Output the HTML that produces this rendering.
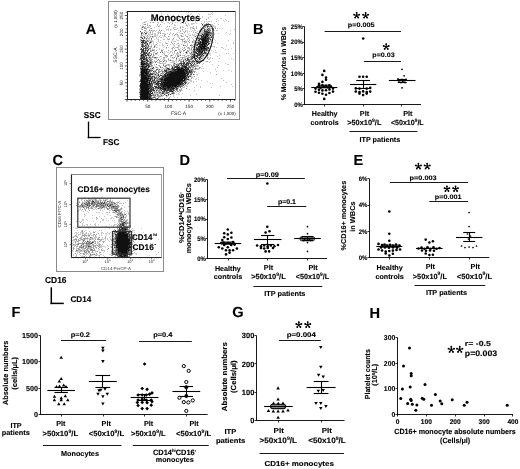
<!DOCTYPE html>
<html><head><meta charset="utf-8"><style>
html,body{margin:0;padding:0;background:#fff;width:520px;height:469px;overflow:hidden}
svg{display:block;font-family:"Liberation Sans", sans-serif;font-weight:bold;will-change:transform;text-rendering:geometricPrecision}
</style></head><body>
<svg width="520" height="469" viewBox="0 0 520 469">
<rect width="520" height="469" fill="#fff"/>
<text x="85.8" y="33.9" font-size="14.6" stroke="#000" stroke-width="0.12">A</text>
<rect x="108.5" y="1.5" width="131" height="118" stroke="#8a8a8a" stroke-width="1" fill="none"/>
<g shape-rendering="crispEdges"><path d="M188 12h1v1h-1zM212 12h1v1h-1zM161 13h1v1h-1zM191 13h1v1h-1zM198 13h1v1h-1zM211 13h1v1h-1zM167 14h1v1h-1zM190 14h1v1h-1zM199 14h1v1h-1zM208 14h3v1h-3zM212 14h1v1h-1zM188 15h2v1h-2zM225 15h1v1h-1zM161 16h1v1h-1zM176 16h1v1h-1zM186 16h1v1h-1zM197 16h1v1h-1zM202 16h1v1h-1zM210 16h1v1h-1zM172 17h1v1h-1zM174 17h1v1h-1zM176 17h1v1h-1zM181 17h1v1h-1zM187 17h1v1h-1zM192 17h1v1h-1zM202 17h1v1h-1zM208 17h1v1h-1zM168 18h1v1h-1zM178 18h1v1h-1zM183 18h1v1h-1zM195 18h1v1h-1zM208 18h1v1h-1zM217 18h1v1h-1zM220 18h2v1h-2zM141 19h1v1h-1zM161 19h1v1h-1zM169 19h1v1h-1zM183 19h1v1h-1zM216 19h1v1h-1zM225 19h1v1h-1zM150 20h1v1h-1zM182 20h2v1h-2zM194 20h1v1h-1zM198 20h1v1h-1zM218 20h1v1h-1zM223 20h1v1h-1zM226 20h1v1h-1zM145 21h2v1h-2zM163 21h1v1h-1zM172 21h1v1h-1zM186 21h1v1h-1zM195 21h1v1h-1zM201 21h1v1h-1zM204 21h1v1h-1zM206 21h1v1h-1zM208 21h2v1h-2zM211 21h1v1h-1zM216 21h1v1h-1zM224 21h1v1h-1zM228 21h1v1h-1zM143 22h1v1h-1zM145 22h1v1h-1zM152 22h1v1h-1zM157 22h2v1h-2zM161 22h2v1h-2zM167 22h2v1h-2zM170 22h1v1h-1zM172 22h1v1h-1zM175 22h1v1h-1zM177 22h1v1h-1zM185 22h1v1h-1zM195 22h1v1h-1zM204 22h1v1h-1zM207 22h1v1h-1zM142 23h1v1h-1zM147 23h1v1h-1zM158 23h1v1h-1zM164 23h1v1h-1zM169 23h1v1h-1zM180 23h1v1h-1zM183 23h1v1h-1zM188 23h1v1h-1zM191 23h4v1h-4zM196 23h1v1h-1zM203 23h1v1h-1zM214 23h1v1h-1zM143 24h1v1h-1zM147 24h1v1h-1zM171 24h1v1h-1zM174 24h1v1h-1zM186 24h1v1h-1zM188 24h1v1h-1zM191 24h2v1h-2zM205 24h1v1h-1zM208 24h1v1h-1zM211 24h2v1h-2zM218 24h1v1h-1zM140 25h1v1h-1zM150 25h1v1h-1zM157 25h1v1h-1zM159 25h1v1h-1zM174 25h2v1h-2zM187 25h1v1h-1zM189 25h1v1h-1zM203 25h1v1h-1zM212 25h2v1h-2zM145 26h1v1h-1zM148 26h1v1h-1zM156 26h1v1h-1zM159 26h1v1h-1zM161 26h1v1h-1zM180 26h1v1h-1zM182 26h1v1h-1zM187 26h1v1h-1zM193 26h1v1h-1zM196 26h1v1h-1zM206 26h1v1h-1zM212 26h4v1h-4zM141 27h1v1h-1zM143 27h1v1h-1zM145 27h1v1h-1zM148 27h2v1h-2zM154 27h1v1h-1zM166 27h1v1h-1zM173 27h3v1h-3zM182 27h2v1h-2zM190 27h4v1h-4zM196 27h1v1h-1zM200 27h1v1h-1zM202 27h1v1h-1zM204 27h1v1h-1zM209 27h2v1h-2zM214 27h2v1h-2zM141 28h1v1h-1zM146 28h1v1h-1zM150 28h1v1h-1zM165 28h1v1h-1zM168 28h1v1h-1zM173 28h1v1h-1zM177 28h1v1h-1zM180 28h1v1h-1zM185 28h1v1h-1zM187 28h1v1h-1zM190 28h1v1h-1zM192 28h1v1h-1zM194 28h1v1h-1zM206 28h2v1h-2zM210 28h1v1h-1zM212 28h1v1h-1zM217 28h1v1h-1zM219 28h1v1h-1zM222 28h1v1h-1zM141 29h1v1h-1zM146 29h1v1h-1zM149 29h1v1h-1zM159 29h1v1h-1zM166 29h3v1h-3zM170 29h2v1h-2zM175 29h2v1h-2zM190 29h1v1h-1zM194 29h1v1h-1zM206 29h1v1h-1zM210 29h1v1h-1zM212 29h1v1h-1zM234 29h1v1h-1zM150 30h1v1h-1zM152 30h3v1h-3zM156 30h1v1h-1zM163 30h1v1h-1zM166 30h1v1h-1zM168 30h1v1h-1zM170 30h1v1h-1zM178 30h1v1h-1zM180 30h1v1h-1zM182 30h1v1h-1zM185 30h1v1h-1zM187 30h1v1h-1zM192 30h1v1h-1zM194 30h2v1h-2zM199 30h5v1h-5zM212 30h3v1h-3zM216 30h2v1h-2zM230 30h1v1h-1zM145 31h2v1h-2zM148 31h1v1h-1zM150 31h1v1h-1zM152 31h2v1h-2zM155 31h1v1h-1zM158 31h1v1h-1zM160 31h1v1h-1zM164 31h1v1h-1zM183 31h1v1h-1zM187 31h1v1h-1zM189 31h1v1h-1zM191 31h1v1h-1zM193 31h1v1h-1zM197 31h1v1h-1zM201 31h3v1h-3zM210 31h1v1h-1zM147 32h1v1h-1zM149 32h1v1h-1zM152 32h1v1h-1zM157 32h4v1h-4zM170 32h1v1h-1zM177 32h1v1h-1zM179 32h1v1h-1zM187 32h1v1h-1zM193 32h1v1h-1zM196 32h1v1h-1zM200 32h3v1h-3zM213 32h1v1h-1zM226 32h1v1h-1zM143 33h1v1h-1zM148 33h1v1h-1zM150 33h1v1h-1zM152 33h1v1h-1zM154 33h2v1h-2zM162 33h3v1h-3zM167 33h1v1h-1zM170 33h1v1h-1zM176 33h1v1h-1zM180 33h2v1h-2zM189 33h1v1h-1zM196 33h1v1h-1zM198 33h1v1h-1zM200 33h1v1h-1zM203 33h1v1h-1zM212 33h1v1h-1zM214 33h1v1h-1zM218 33h1v1h-1zM230 33h1v1h-1zM143 34h4v1h-4zM148 34h4v1h-4zM154 34h2v1h-2zM157 34h1v1h-1zM164 34h1v1h-1zM172 34h1v1h-1zM176 34h1v1h-1zM183 34h1v1h-1zM185 34h1v1h-1zM188 34h1v1h-1zM192 34h1v1h-1zM194 34h2v1h-2zM198 34h4v1h-4zM214 34h1v1h-1zM229 34h1v1h-1zM145 35h1v1h-1zM149 35h1v1h-1zM154 35h4v1h-4zM160 35h1v1h-1zM162 35h1v1h-1zM172 35h1v1h-1zM177 35h2v1h-2zM180 35h1v1h-1zM185 35h1v1h-1zM189 35h1v1h-1zM192 35h3v1h-3zM196 35h1v1h-1zM211 35h3v1h-3zM140 36h2v1h-2zM146 36h3v1h-3zM151 36h1v1h-1zM153 36h3v1h-3zM159 36h1v1h-1zM163 36h3v1h-3zM169 36h1v1h-1zM177 36h2v1h-2zM182 36h2v1h-2zM186 36h1v1h-1zM194 36h1v1h-1zM197 36h4v1h-4zM210 36h1v1h-1zM142 37h1v1h-1zM145 37h1v1h-1zM149 37h2v1h-2zM152 37h2v1h-2zM156 37h1v1h-1zM158 37h1v1h-1zM160 37h2v1h-2zM166 37h1v1h-1zM174 37h1v1h-1zM178 37h2v1h-2zM187 37h1v1h-1zM189 37h1v1h-1zM191 37h1v1h-1zM193 37h1v1h-1zM198 37h1v1h-1zM200 37h1v1h-1zM141 38h1v1h-1zM143 38h1v1h-1zM145 38h1v1h-1zM147 38h3v1h-3zM156 38h1v1h-1zM167 38h1v1h-1zM169 38h1v1h-1zM184 38h1v1h-1zM192 38h1v1h-1zM195 38h1v1h-1zM212 38h1v1h-1zM141 39h1v1h-1zM148 39h2v1h-2zM154 39h1v1h-1zM157 39h2v1h-2zM163 39h2v1h-2zM167 39h1v1h-1zM169 39h1v1h-1zM172 39h2v1h-2zM176 39h1v1h-1zM180 39h1v1h-1zM183 39h2v1h-2zM187 39h1v1h-1zM189 39h1v1h-1zM193 39h1v1h-1zM196 39h2v1h-2zM211 39h1v1h-1zM214 39h1v1h-1zM140 40h1v1h-1zM145 40h2v1h-2zM148 40h5v1h-5zM158 40h1v1h-1zM160 40h1v1h-1zM172 40h1v1h-1zM177 40h2v1h-2zM185 40h1v1h-1zM187 40h1v1h-1zM189 40h1v1h-1zM193 40h5v1h-5zM211 40h1v1h-1zM215 40h1v1h-1zM228 40h1v1h-1zM140 41h2v1h-2zM144 41h1v1h-1zM152 41h2v1h-2zM158 41h1v1h-1zM168 41h1v1h-1zM171 41h1v1h-1zM173 41h3v1h-3zM182 41h2v1h-2zM185 41h2v1h-2zM193 41h2v1h-2zM197 41h1v1h-1zM210 41h1v1h-1zM153 42h1v1h-1zM156 42h1v1h-1zM159 42h2v1h-2zM165 42h1v1h-1zM182 42h1v1h-1zM184 42h2v1h-2zM193 42h2v1h-2zM209 42h1v1h-1zM212 42h2v1h-2zM215 42h1v1h-1zM233 42h1v1h-1zM140 43h2v1h-2zM150 43h1v1h-1zM153 43h1v1h-1zM157 43h1v1h-1zM162 43h1v1h-1zM165 43h1v1h-1zM167 43h1v1h-1zM177 43h1v1h-1zM184 43h1v1h-1zM187 43h1v1h-1zM194 43h1v1h-1zM197 43h1v1h-1zM207 43h1v1h-1zM210 43h1v1h-1zM217 43h1v1h-1zM233 43h1v1h-1zM148 44h2v1h-2zM151 44h1v1h-1zM153 44h1v1h-1zM155 44h1v1h-1zM162 44h1v1h-1zM170 44h1v1h-1zM173 44h1v1h-1zM176 44h1v1h-1zM181 44h1v1h-1zM183 44h1v1h-1zM187 44h1v1h-1zM191 44h1v1h-1zM193 44h1v1h-1zM209 44h1v1h-1zM144 45h1v1h-1zM147 45h1v1h-1zM151 45h1v1h-1zM154 45h2v1h-2zM157 45h1v1h-1zM159 45h1v1h-1zM162 45h2v1h-2zM173 45h2v1h-2zM179 45h1v1h-1zM184 45h1v1h-1zM187 45h1v1h-1zM195 45h1v1h-1zM210 45h2v1h-2zM226 45h1v1h-1zM145 46h1v1h-1zM147 46h1v1h-1zM149 46h2v1h-2zM155 46h1v1h-1zM164 46h1v1h-1zM174 46h1v1h-1zM178 46h2v1h-2zM191 46h1v1h-1zM194 46h4v1h-4zM207 46h1v1h-1zM209 46h1v1h-1zM211 46h4v1h-4zM140 47h1v1h-1zM150 47h2v1h-2zM153 47h1v1h-1zM156 47h2v1h-2zM163 47h1v1h-1zM168 47h1v1h-1zM172 47h1v1h-1zM175 47h2v1h-2zM178 47h1v1h-1zM182 47h1v1h-1zM187 47h1v1h-1zM189 47h1v1h-1zM191 47h1v1h-1zM193 47h1v1h-1zM195 47h1v1h-1zM214 47h1v1h-1zM216 47h1v1h-1zM221 47h2v1h-2zM140 48h1v1h-1zM148 48h1v1h-1zM152 48h1v1h-1zM159 48h1v1h-1zM166 48h1v1h-1zM171 48h1v1h-1zM174 48h1v1h-1zM178 48h1v1h-1zM180 48h1v1h-1zM183 48h2v1h-2zM187 48h2v1h-2zM193 48h1v1h-1zM195 48h1v1h-1zM209 48h1v1h-1zM223 48h1v1h-1zM231 48h1v1h-1zM147 49h1v1h-1zM152 49h3v1h-3zM159 49h1v1h-1zM161 49h1v1h-1zM163 49h1v1h-1zM172 49h1v1h-1zM179 49h1v1h-1zM189 49h2v1h-2zM208 49h1v1h-1zM225 49h1v1h-1zM228 49h1v1h-1zM151 50h1v1h-1zM154 50h1v1h-1zM172 50h1v1h-1zM179 50h2v1h-2zM188 50h2v1h-2zM191 50h5v1h-5zM209 50h1v1h-1zM211 50h1v1h-1zM215 50h1v1h-1zM154 51h1v1h-1zM162 51h1v1h-1zM164 51h1v1h-1zM166 51h1v1h-1zM170 51h2v1h-2zM179 51h3v1h-3zM183 51h1v1h-1zM187 51h1v1h-1zM191 51h2v1h-2zM194 51h1v1h-1zM205 51h4v1h-4zM213 51h1v1h-1zM147 52h2v1h-2zM153 52h2v1h-2zM164 52h1v1h-1zM167 52h2v1h-2zM170 52h1v1h-1zM172 52h1v1h-1zM174 52h1v1h-1zM179 52h1v1h-1zM187 52h1v1h-1zM189 52h1v1h-1zM192 52h3v1h-3zM197 52h1v1h-1zM203 52h1v1h-1zM215 52h2v1h-2zM142 53h1v1h-1zM150 53h2v1h-2zM153 53h1v1h-1zM157 53h1v1h-1zM163 53h2v1h-2zM169 53h1v1h-1zM172 53h1v1h-1zM174 53h1v1h-1zM176 53h3v1h-3zM180 53h1v1h-1zM183 53h1v1h-1zM187 53h1v1h-1zM189 53h1v1h-1zM192 53h1v1h-1zM194 53h1v1h-1zM207 53h4v1h-4zM226 53h1v1h-1zM228 53h1v1h-1zM233 53h1v1h-1zM140 54h1v1h-1zM149 54h1v1h-1zM155 54h2v1h-2zM162 54h1v1h-1zM164 54h1v1h-1zM168 54h1v1h-1zM173 54h1v1h-1zM176 54h3v1h-3zM180 54h1v1h-1zM185 54h1v1h-1zM190 54h1v1h-1zM203 54h4v1h-4zM208 54h2v1h-2zM151 55h1v1h-1zM154 55h1v1h-1zM158 55h1v1h-1zM164 55h1v1h-1zM167 55h1v1h-1zM170 55h1v1h-1zM172 55h1v1h-1zM175 55h1v1h-1zM178 55h2v1h-2zM182 55h2v1h-2zM187 55h1v1h-1zM189 55h1v1h-1zM192 55h1v1h-1zM204 55h1v1h-1zM210 55h1v1h-1zM219 55h1v1h-1zM148 56h1v1h-1zM150 56h1v1h-1zM153 56h1v1h-1zM161 56h1v1h-1zM165 56h2v1h-2zM170 56h1v1h-1zM175 56h1v1h-1zM184 56h2v1h-2zM188 56h1v1h-1zM198 56h2v1h-2zM203 56h1v1h-1zM207 56h1v1h-1zM217 56h1v1h-1zM145 57h1v1h-1zM148 57h1v1h-1zM151 57h1v1h-1zM153 57h1v1h-1zM159 57h1v1h-1zM166 57h1v1h-1zM170 57h1v1h-1zM173 57h1v1h-1zM176 57h2v1h-2zM180 57h2v1h-2zM184 57h2v1h-2zM187 57h1v1h-1zM190 57h1v1h-1zM195 57h2v1h-2zM201 57h4v1h-4zM208 57h1v1h-1zM210 57h1v1h-1zM147 58h1v1h-1zM149 58h1v1h-1zM151 58h1v1h-1zM154 58h3v1h-3zM161 58h1v1h-1zM163 58h2v1h-2zM168 58h1v1h-1zM172 58h2v1h-2zM178 58h2v1h-2zM184 58h3v1h-3zM193 58h2v1h-2zM202 58h1v1h-1zM209 58h2v1h-2zM212 58h1v1h-1zM219 58h1v1h-1zM231 58h1v1h-1zM142 59h1v1h-1zM156 59h1v1h-1zM160 59h1v1h-1zM163 59h2v1h-2zM170 59h1v1h-1zM179 59h2v1h-2zM182 59h3v1h-3zM192 59h1v1h-1zM194 59h1v1h-1zM202 59h3v1h-3zM208 59h2v1h-2zM233 59h1v1h-1zM140 60h1v1h-1zM149 60h1v1h-1zM154 60h1v1h-1zM162 60h1v1h-1zM165 60h2v1h-2zM168 60h2v1h-2zM171 60h3v1h-3zM175 60h2v1h-2zM178 60h1v1h-1zM180 60h1v1h-1zM184 60h2v1h-2zM190 60h2v1h-2zM196 60h1v1h-1zM199 60h1v1h-1zM155 61h1v1h-1zM159 61h1v1h-1zM164 61h1v1h-1zM172 61h3v1h-3zM176 61h1v1h-1zM178 61h1v1h-1zM195 61h1v1h-1zM201 61h1v1h-1zM205 61h2v1h-2zM210 61h1v1h-1zM218 61h1v1h-1zM152 62h2v1h-2zM157 62h3v1h-3zM162 62h1v1h-1zM165 62h1v1h-1zM170 62h5v1h-5zM176 62h1v1h-1zM190 62h1v1h-1zM194 62h2v1h-2zM198 62h1v1h-1zM200 62h1v1h-1zM209 62h1v1h-1zM140 63h1v1h-1zM152 63h1v1h-1zM159 63h1v1h-1zM161 63h5v1h-5zM173 63h1v1h-1zM175 63h1v1h-1zM177 63h2v1h-2zM185 63h1v1h-1zM191 63h1v1h-1zM198 63h1v1h-1zM203 63h1v1h-1zM225 63h1v1h-1zM154 64h1v1h-1zM166 64h2v1h-2zM169 64h2v1h-2zM174 64h2v1h-2zM180 64h1v1h-1zM182 64h1v1h-1zM196 64h1v1h-1zM202 64h1v1h-1zM212 64h1v1h-1zM227 64h2v1h-2zM140 65h1v1h-1zM150 65h1v1h-1zM154 65h1v1h-1zM158 65h1v1h-1zM167 65h1v1h-1zM169 65h1v1h-1zM179 65h1v1h-1zM189 65h1v1h-1zM194 65h3v1h-3zM198 65h1v1h-1zM218 65h1v1h-1zM152 66h1v1h-1zM155 66h1v1h-1zM159 66h1v1h-1zM169 66h1v1h-1zM171 66h1v1h-1zM173 66h1v1h-1zM190 66h1v1h-1zM193 66h1v1h-1zM196 66h3v1h-3zM202 66h1v1h-1zM149 67h1v1h-1zM151 67h2v1h-2zM155 67h1v1h-1zM157 67h1v1h-1zM161 67h1v1h-1zM165 67h1v1h-1zM167 67h1v1h-1zM169 67h1v1h-1zM171 67h1v1h-1zM191 67h1v1h-1zM195 67h1v1h-1zM200 67h1v1h-1zM217 67h1v1h-1zM151 68h1v1h-1zM154 68h1v1h-1zM157 68h2v1h-2zM165 68h1v1h-1zM189 68h1v1h-1zM192 68h3v1h-3zM197 68h2v1h-2zM201 68h1v1h-1zM203 68h1v1h-1zM152 69h2v1h-2zM158 69h1v1h-1zM160 69h3v1h-3zM165 69h1v1h-1zM189 69h1v1h-1zM193 69h2v1h-2zM196 69h3v1h-3zM215 69h1v1h-1zM154 70h1v1h-1zM159 70h1v1h-1zM162 70h1v1h-1zM169 70h1v1h-1zM193 70h1v1h-1zM223 70h1v1h-1zM228 70h1v1h-1zM161 71h1v1h-1zM195 71h1v1h-1zM203 71h1v1h-1zM216 71h1v1h-1zM231 71h1v1h-1zM152 72h2v1h-2zM155 72h1v1h-1zM163 72h1v1h-1zM165 72h1v1h-1zM196 72h1v1h-1zM210 72h1v1h-1zM155 73h1v1h-1zM158 73h1v1h-1zM160 73h1v1h-1zM189 73h1v1h-1zM192 73h1v1h-1zM198 73h1v1h-1zM139 74h1v1h-1zM153 74h1v1h-1zM156 74h2v1h-2zM162 74h2v1h-2zM194 74h1v1h-1zM196 74h2v1h-2zM151 75h5v1h-5zM159 75h1v1h-1zM188 75h1v1h-1zM191 75h1v1h-1zM197 75h1v1h-1zM139 76h2v1h-2zM157 76h2v1h-2zM161 76h1v1h-1zM191 76h2v1h-2zM153 77h1v1h-1zM157 77h1v1h-1zM159 77h2v1h-2zM191 77h2v1h-2zM198 77h1v1h-1zM140 78h1v1h-1zM153 78h1v1h-1zM158 78h1v1h-1zM188 78h1v1h-1zM193 78h1v1h-1zM196 78h1v1h-1zM221 78h1v1h-1zM153 79h1v1h-1zM155 79h2v1h-2zM189 79h2v1h-2zM195 79h1v1h-1zM198 79h1v1h-1zM151 80h1v1h-1zM155 80h1v1h-1zM188 80h4v1h-4zM201 80h1v1h-1zM223 80h1v1h-1zM186 81h2v1h-2zM190 81h2v1h-2zM193 81h1v1h-1zM196 81h1v1h-1zM207 81h1v1h-1zM140 82h1v1h-1zM150 82h1v1h-1zM152 82h1v1h-1zM156 82h1v1h-1zM159 82h1v1h-1zM183 82h1v1h-1zM188 82h2v1h-2zM193 82h1v1h-1zM226 82h1v1h-1zM184 83h1v1h-1zM186 83h2v1h-2zM210 83h1v1h-1zM212 83h1v1h-1zM159 84h1v1h-1zM185 84h1v1h-1zM187 84h1v1h-1zM231 84h1v1h-1zM154 85h1v1h-1zM156 85h1v1h-1zM185 85h2v1h-2zM196 85h1v1h-1zM157 86h1v1h-1zM184 86h1v1h-1zM186 86h2v1h-2zM200 86h1v1h-1zM220 86h1v1h-1zM232 86h1v1h-1zM179 87h1v1h-1zM182 87h3v1h-3zM194 87h1v1h-1zM200 87h1v1h-1zM211 87h1v1h-1zM139 88h1v1h-1zM178 88h1v1h-1zM154 89h3v1h-3zM158 89h1v1h-1zM174 89h1v1h-1zM180 89h1v1h-1zM189 89h1v1h-1zM139 90h1v1h-1zM160 90h1v1h-1zM181 90h2v1h-2zM194 90h1v1h-1zM139 91h1v1h-1zM152 91h2v1h-2zM155 91h1v1h-1zM160 91h2v1h-2zM165 91h1v1h-1zM155 92h1v1h-1zM158 92h1v1h-1zM161 92h1v1h-1zM169 92h1v1h-1zM171 92h1v1h-1zM174 92h1v1h-1zM176 92h1v1h-1zM179 92h1v1h-1zM139 93h1v1h-1zM153 93h6v1h-6zM160 93h1v1h-1zM164 93h1v1h-1zM168 93h2v1h-2zM178 93h1v1h-1zM182 93h1v1h-1zM139 94h1v1h-1zM151 94h1v1h-1zM154 94h1v1h-1zM156 94h1v1h-1zM158 94h1v1h-1zM161 94h2v1h-2zM165 94h1v1h-1zM169 94h1v1h-1zM171 94h1v1h-1zM173 94h1v1h-1zM176 94h1v1h-1zM178 94h2v1h-2zM196 94h1v1h-1zM159 95h2v1h-2zM162 95h1v1h-1zM165 95h1v1h-1zM167 95h1v1h-1zM173 95h1v1h-1zM190 95h1v1h-1zM219 95h1v1h-1zM153 96h1v1h-1zM155 96h3v1h-3zM161 96h2v1h-2zM166 96h2v1h-2zM170 96h1v1h-1zM173 96h1v1h-1zM159 97h1v1h-1zM166 97h1v1h-1zM169 97h1v1h-1zM174 97h1v1h-1zM177 97h1v1h-1zM181 97h1v1h-1zM153 98h1v1h-1zM158 98h1v1h-1zM160 98h1v1h-1zM162 98h1v1h-1zM169 98h1v1h-1z" fill="#c8c8c8"/><path d="M200 18h1v1h-1zM206 19h1v1h-1zM144 22h1v1h-1zM150 22h1v1h-1zM153 22h1v1h-1zM172 23h1v1h-1zM185 23h1v1h-1zM201 23h1v1h-1zM206 23h1v1h-1zM208 23h1v1h-1zM144 24h2v1h-2zM157 24h1v1h-1zM160 24h1v1h-1zM204 24h1v1h-1zM209 24h2v1h-2zM147 25h1v1h-1zM149 25h1v1h-1zM186 25h1v1h-1zM202 25h1v1h-1zM207 25h2v1h-2zM142 26h2v1h-2zM150 26h1v1h-1zM158 26h1v1h-1zM167 26h1v1h-1zM169 26h1v1h-1zM205 26h1v1h-1zM209 26h2v1h-2zM144 27h1v1h-1zM147 27h1v1h-1zM180 27h1v1h-1zM205 27h1v1h-1zM144 28h2v1h-2zM151 28h1v1h-1zM193 28h1v1h-1zM196 28h1v1h-1zM204 28h1v1h-1zM209 28h1v1h-1zM211 28h1v1h-1zM215 28h1v1h-1zM142 29h1v1h-1zM174 29h1v1h-1zM182 29h1v1h-1zM200 29h1v1h-1zM202 29h1v1h-1zM205 29h1v1h-1zM208 29h1v1h-1zM144 30h2v1h-2zM149 30h1v1h-1zM151 30h1v1h-1zM159 30h1v1h-1zM161 30h1v1h-1zM205 30h1v1h-1zM207 30h1v1h-1zM209 30h1v1h-1zM180 31h1v1h-1zM185 31h1v1h-1zM199 31h2v1h-2zM208 31h1v1h-1zM212 31h1v1h-1zM141 32h2v1h-2zM146 32h1v1h-1zM150 32h1v1h-1zM184 32h1v1h-1zM195 32h1v1h-1zM203 32h1v1h-1zM211 32h1v1h-1zM142 33h1v1h-1zM158 33h1v1h-1zM160 33h1v1h-1zM173 33h1v1h-1zM182 33h1v1h-1zM197 33h1v1h-1zM201 33h2v1h-2zM141 34h1v1h-1zM152 34h1v1h-1zM165 34h1v1h-1zM169 34h1v1h-1zM175 34h1v1h-1zM177 34h1v1h-1zM210 34h2v1h-2zM141 35h2v1h-2zM147 35h1v1h-1zM164 35h1v1h-1zM174 35h1v1h-1zM181 35h1v1h-1zM190 35h1v1h-1zM198 35h1v1h-1zM202 35h1v1h-1zM209 35h1v1h-1zM143 36h2v1h-2zM150 36h1v1h-1zM168 36h1v1h-1zM181 36h1v1h-1zM187 36h1v1h-1zM208 36h2v1h-2zM140 37h1v1h-1zM147 37h1v1h-1zM197 37h1v1h-1zM199 37h1v1h-1zM210 37h1v1h-1zM213 37h1v1h-1zM144 38h1v1h-1zM173 38h1v1h-1zM179 38h1v1h-1zM188 38h1v1h-1zM196 38h1v1h-1zM210 38h1v1h-1zM140 39h1v1h-1zM143 39h1v1h-1zM146 39h1v1h-1zM151 39h1v1h-1zM168 39h1v1h-1zM181 39h2v1h-2zM198 39h1v1h-1zM209 39h1v1h-1zM182 40h1v1h-1zM210 40h1v1h-1zM147 41h2v1h-2zM150 41h2v1h-2zM188 41h1v1h-1zM192 41h1v1h-1zM195 41h1v1h-1zM198 41h1v1h-1zM201 41h1v1h-1zM211 41h1v1h-1zM144 42h1v1h-1zM149 42h1v1h-1zM151 42h1v1h-1zM171 42h1v1h-1zM186 42h1v1h-1zM189 42h1v1h-1zM192 42h1v1h-1zM143 43h1v1h-1zM146 43h1v1h-1zM149 43h1v1h-1zM166 43h1v1h-1zM172 43h1v1h-1zM174 43h1v1h-1zM178 43h1v1h-1zM196 43h1v1h-1zM143 44h1v1h-1zM145 44h2v1h-2zM156 44h1v1h-1zM195 44h2v1h-2zM141 45h1v1h-1zM146 45h1v1h-1zM167 45h1v1h-1zM178 45h1v1h-1zM185 45h1v1h-1zM191 45h2v1h-2zM194 45h1v1h-1zM151 46h1v1h-1zM186 46h1v1h-1zM210 46h1v1h-1zM143 47h1v1h-1zM146 47h1v1h-1zM148 47h1v1h-1zM154 47h1v1h-1zM166 47h1v1h-1zM173 47h1v1h-1zM177 47h1v1h-1zM184 47h1v1h-1zM188 47h1v1h-1zM192 47h1v1h-1zM194 47h1v1h-1zM197 47h1v1h-1zM210 47h1v1h-1zM150 48h1v1h-1zM172 48h1v1h-1zM189 48h1v1h-1zM191 48h1v1h-1zM146 49h1v1h-1zM150 49h1v1h-1zM178 49h1v1h-1zM182 49h1v1h-1zM185 49h1v1h-1zM191 49h1v1h-1zM194 49h1v1h-1zM141 50h1v1h-1zM144 50h1v1h-1zM146 50h1v1h-1zM148 50h1v1h-1zM150 50h1v1h-1zM153 50h1v1h-1zM156 50h1v1h-1zM161 50h2v1h-2zM168 50h1v1h-1zM176 50h1v1h-1zM183 50h2v1h-2zM187 50h1v1h-1zM207 50h1v1h-1zM144 51h1v1h-1zM150 51h2v1h-2zM161 51h1v1h-1zM174 51h1v1h-1zM186 51h1v1h-1zM188 51h1v1h-1zM193 51h1v1h-1zM196 51h1v1h-1zM203 51h1v1h-1zM142 52h1v1h-1zM157 52h1v1h-1zM177 52h1v1h-1zM185 52h1v1h-1zM206 52h1v1h-1zM208 52h1v1h-1zM140 53h2v1h-2zM147 53h1v1h-1zM149 53h1v1h-1zM155 53h1v1h-1zM186 53h1v1h-1zM190 53h2v1h-2zM195 53h1v1h-1zM206 53h1v1h-1zM153 54h1v1h-1zM191 54h1v1h-1zM193 54h1v1h-1zM195 54h1v1h-1zM140 55h1v1h-1zM144 55h1v1h-1zM147 55h1v1h-1zM149 55h1v1h-1zM153 55h1v1h-1zM165 55h2v1h-2zM177 55h1v1h-1zM184 55h1v1h-1zM188 55h1v1h-1zM191 55h1v1h-1zM200 55h1v1h-1zM202 55h1v1h-1zM140 56h1v1h-1zM145 56h2v1h-2zM149 56h1v1h-1zM152 56h1v1h-1zM160 56h1v1h-1zM167 56h1v1h-1zM177 56h1v1h-1zM186 56h1v1h-1zM190 56h2v1h-2zM195 56h1v1h-1zM202 56h1v1h-1zM140 57h1v1h-1zM147 57h1v1h-1zM150 57h1v1h-1zM152 57h1v1h-1zM156 57h2v1h-2zM163 57h2v1h-2zM172 57h1v1h-1zM174 57h1v1h-1zM182 57h2v1h-2zM188 57h2v1h-2zM198 57h1v1h-1zM207 57h1v1h-1zM148 58h1v1h-1zM150 58h1v1h-1zM182 58h1v1h-1zM188 58h1v1h-1zM190 58h1v1h-1zM200 58h1v1h-1zM207 58h1v1h-1zM139 59h1v1h-1zM150 59h3v1h-3zM168 59h1v1h-1zM176 59h1v1h-1zM181 59h1v1h-1zM189 59h2v1h-2zM200 59h1v1h-1zM143 60h3v1h-3zM148 60h1v1h-1zM151 60h1v1h-1zM157 60h1v1h-1zM159 60h1v1h-1zM164 60h1v1h-1zM192 60h1v1h-1zM195 60h1v1h-1zM197 60h2v1h-2zM200 60h2v1h-2zM146 61h1v1h-1zM149 61h4v1h-4zM154 61h1v1h-1zM156 61h1v1h-1zM160 61h2v1h-2zM166 61h1v1h-1zM180 61h1v1h-1zM182 61h1v1h-1zM185 61h2v1h-2zM190 61h2v1h-2zM198 61h2v1h-2zM207 61h1v1h-1zM140 62h1v1h-1zM145 62h1v1h-1zM147 62h1v1h-1zM149 62h1v1h-1zM180 62h2v1h-2zM186 62h1v1h-1zM188 62h1v1h-1zM192 62h2v1h-2zM196 62h2v1h-2zM199 62h1v1h-1zM148 63h1v1h-1zM151 63h1v1h-1zM160 63h1v1h-1zM196 63h1v1h-1zM140 64h1v1h-1zM149 64h1v1h-1zM151 64h1v1h-1zM163 64h1v1h-1zM168 64h1v1h-1zM173 64h1v1h-1zM177 64h1v1h-1zM179 64h1v1h-1zM184 64h1v1h-1zM190 64h1v1h-1zM194 64h2v1h-2zM145 65h1v1h-1zM151 65h2v1h-2zM159 65h1v1h-1zM165 65h2v1h-2zM168 65h1v1h-1zM171 65h1v1h-1zM173 65h1v1h-1zM176 65h1v1h-1zM180 65h1v1h-1zM185 65h1v1h-1zM188 65h1v1h-1zM197 65h1v1h-1zM139 66h2v1h-2zM147 66h1v1h-1zM150 66h2v1h-2zM160 66h1v1h-1zM164 66h1v1h-1zM174 66h1v1h-1zM178 66h1v1h-1zM181 66h1v1h-1zM192 66h1v1h-1zM195 66h1v1h-1zM140 67h2v1h-2zM147 67h1v1h-1zM162 67h1v1h-1zM166 67h1v1h-1zM173 67h1v1h-1zM180 67h1v1h-1zM192 67h2v1h-2zM199 67h1v1h-1zM148 68h1v1h-1zM150 68h1v1h-1zM153 68h1v1h-1zM163 68h1v1h-1zM166 68h1v1h-1zM169 68h1v1h-1zM184 68h1v1h-1zM190 68h1v1h-1zM196 68h1v1h-1zM199 68h1v1h-1zM140 69h1v1h-1zM150 69h2v1h-2zM164 69h1v1h-1zM167 69h1v1h-1zM171 69h1v1h-1zM190 69h1v1h-1zM195 69h1v1h-1zM140 70h1v1h-1zM148 70h1v1h-1zM155 70h2v1h-2zM158 70h1v1h-1zM161 70h1v1h-1zM167 70h2v1h-2zM170 70h1v1h-1zM188 70h1v1h-1zM192 70h1v1h-1zM140 71h1v1h-1zM150 71h2v1h-2zM154 71h1v1h-1zM158 71h3v1h-3zM163 71h2v1h-2zM167 71h1v1h-1zM192 71h3v1h-3zM149 72h2v1h-2zM154 72h1v1h-1zM159 72h1v1h-1zM162 72h1v1h-1zM164 72h1v1h-1zM194 72h1v1h-1zM140 73h1v1h-1zM149 73h1v1h-1zM154 73h1v1h-1zM156 73h2v1h-2zM162 73h2v1h-2zM190 73h1v1h-1zM154 74h1v1h-1zM160 74h1v1h-1zM186 74h1v1h-1zM216 74h1v1h-1zM139 75h2v1h-2zM156 75h2v1h-2zM162 75h1v1h-1zM189 75h2v1h-2zM151 76h1v1h-1zM156 76h1v1h-1zM194 76h1v1h-1zM140 77h1v1h-1zM187 77h1v1h-1zM156 78h1v1h-1zM187 78h1v1h-1zM191 78h1v1h-1zM149 79h1v1h-1zM151 79h1v1h-1zM157 79h1v1h-1zM183 79h1v1h-1zM158 80h2v1h-2zM186 80h1v1h-1zM139 81h1v1h-1zM154 81h1v1h-1zM156 81h1v1h-1zM153 83h3v1h-3zM188 83h1v1h-1zM154 84h1v1h-1zM183 84h1v1h-1zM139 85h1v1h-1zM181 85h2v1h-2zM139 86h1v1h-1zM152 86h1v1h-1zM160 86h1v1h-1zM182 86h1v1h-1zM177 87h2v1h-2zM152 88h1v1h-1zM154 88h1v1h-1zM156 88h1v1h-1zM175 88h1v1h-1zM181 88h1v1h-1zM186 88h1v1h-1zM139 89h1v1h-1zM149 89h1v1h-1zM157 89h1v1h-1zM159 89h1v1h-1zM161 89h1v1h-1zM175 89h1v1h-1zM177 89h1v1h-1zM179 89h1v1h-1zM181 89h1v1h-1zM157 90h3v1h-3zM172 90h1v1h-1zM176 90h2v1h-2zM179 90h2v1h-2zM154 91h1v1h-1zM156 91h1v1h-1zM158 91h2v1h-2zM167 91h1v1h-1zM173 91h1v1h-1zM175 91h1v1h-1zM177 91h2v1h-2zM180 91h1v1h-1zM156 92h2v1h-2zM164 92h2v1h-2zM172 92h1v1h-1zM159 93h1v1h-1zM161 93h1v1h-1zM165 93h1v1h-1zM171 93h1v1h-1zM174 93h1v1h-1zM152 94h2v1h-2zM155 94h1v1h-1zM160 94h1v1h-1zM152 95h1v1h-1zM154 95h1v1h-1zM157 95h2v1h-2zM163 95h1v1h-1zM168 95h1v1h-1zM139 96h1v1h-1zM151 96h1v1h-1zM154 96h1v1h-1zM158 96h3v1h-3zM151 97h2v1h-2zM155 97h1v1h-1zM158 97h1v1h-1zM152 98h1v1h-1zM155 98h2v1h-2zM168 98h1v1h-1z" fill="#9a9a9a"/><path d="M206 25h1v1h-1zM208 26h1v1h-1zM211 26h1v1h-1zM142 27h1v1h-1zM207 27h1v1h-1zM201 28h1v1h-1zM203 28h1v1h-1zM208 28h1v1h-1zM213 28h1v1h-1zM204 29h1v1h-1zM209 29h1v1h-1zM213 29h1v1h-1zM206 30h1v1h-1zM210 30h1v1h-1zM140 31h1v1h-1zM209 31h1v1h-1zM144 32h1v1h-1zM204 32h2v1h-2zM210 32h1v1h-1zM146 33h1v1h-1zM208 33h4v1h-4zM203 34h1v1h-1zM209 34h1v1h-1zM199 35h2v1h-2zM204 35h1v1h-1zM152 36h1v1h-1zM195 36h1v1h-1zM211 36h1v1h-1zM207 37h1v1h-1zM209 37h1v1h-1zM146 38h1v1h-1zM151 38h1v1h-1zM197 38h1v1h-1zM199 38h1v1h-1zM209 38h1v1h-1zM200 39h1v1h-1zM147 40h1v1h-1zM201 40h1v1h-1zM145 41h2v1h-2zM184 41h1v1h-1zM199 41h1v1h-1zM209 41h1v1h-1zM146 42h1v1h-1zM196 42h2v1h-2zM199 42h1v1h-1zM208 42h1v1h-1zM142 43h1v1h-1zM145 43h1v1h-1zM201 43h1v1h-1zM141 44h1v1h-1zM194 44h1v1h-1zM207 44h1v1h-1zM143 45h1v1h-1zM148 45h1v1h-1zM183 45h1v1h-1zM190 45h1v1h-1zM196 45h1v1h-1zM206 45h1v1h-1zM141 46h1v1h-1zM143 46h1v1h-1zM146 46h1v1h-1zM148 46h1v1h-1zM154 46h1v1h-1zM193 46h1v1h-1zM142 47h1v1h-1zM147 47h1v1h-1zM205 47h2v1h-2zM144 48h1v1h-1zM146 48h2v1h-2zM149 48h1v1h-1zM207 48h1v1h-1zM140 49h1v1h-1zM145 49h1v1h-1zM193 49h1v1h-1zM195 49h1v1h-1zM207 49h1v1h-1zM152 50h1v1h-1zM175 50h1v1h-1zM197 50h1v1h-1zM205 50h1v1h-1zM208 50h1v1h-1zM145 51h1v1h-1zM195 51h1v1h-1zM145 52h1v1h-1zM160 52h1v1h-1zM162 52h1v1h-1zM180 52h1v1h-1zM191 52h1v1h-1zM148 53h1v1h-1zM156 53h1v1h-1zM198 53h1v1h-1zM202 53h1v1h-1zM204 53h1v1h-1zM145 54h1v1h-1zM148 54h1v1h-1zM151 54h1v1h-1zM192 54h1v1h-1zM201 54h1v1h-1zM150 55h1v1h-1zM171 55h1v1h-1zM180 55h1v1h-1zM193 55h3v1h-3zM207 55h1v1h-1zM142 56h1v1h-1zM178 56h1v1h-1zM193 56h1v1h-1zM201 56h1v1h-1zM154 57h2v1h-2zM191 57h2v1h-2zM145 58h1v1h-1zM176 58h1v1h-1zM191 58h1v1h-1zM195 58h1v1h-1zM198 58h1v1h-1zM201 58h1v1h-1zM140 59h1v1h-1zM145 59h1v1h-1zM147 59h1v1h-1zM149 59h1v1h-1zM158 59h1v1h-1zM191 59h1v1h-1zM195 59h1v1h-1zM197 59h1v1h-1zM150 60h1v1h-1zM170 60h1v1h-1zM179 60h1v1h-1zM183 60h1v1h-1zM186 60h4v1h-4zM193 60h1v1h-1zM202 60h2v1h-2zM145 61h1v1h-1zM148 61h1v1h-1zM163 61h1v1h-1zM181 61h1v1h-1zM188 61h1v1h-1zM193 61h1v1h-1zM196 61h2v1h-2zM144 62h1v1h-1zM151 62h1v1h-1zM155 62h1v1h-1zM183 62h1v1h-1zM189 62h1v1h-1zM191 62h1v1h-1zM149 63h2v1h-2zM174 63h1v1h-1zM179 63h1v1h-1zM182 63h1v1h-1zM189 63h1v1h-1zM192 63h1v1h-1zM199 63h1v1h-1zM147 64h1v1h-1zM150 64h1v1h-1zM156 64h1v1h-1zM176 64h1v1h-1zM178 64h1v1h-1zM187 64h1v1h-1zM193 64h1v1h-1zM141 65h1v1h-1zM144 65h1v1h-1zM149 65h1v1h-1zM163 65h1v1h-1zM174 65h1v1h-1zM177 65h1v1h-1zM181 65h1v1h-1zM183 65h1v1h-1zM187 65h1v1h-1zM190 65h4v1h-4zM165 66h1v1h-1zM172 66h1v1h-1zM179 66h1v1h-1zM188 66h2v1h-2zM191 66h1v1h-1zM194 66h1v1h-1zM146 67h1v1h-1zM156 67h1v1h-1zM160 67h1v1h-1zM183 67h1v1h-1zM187 67h4v1h-4zM146 68h1v1h-1zM171 68h1v1h-1zM173 68h2v1h-2zM176 68h1v1h-1zM186 68h1v1h-1zM195 68h1v1h-1zM149 69h1v1h-1zM156 69h2v1h-2zM159 69h1v1h-1zM166 69h1v1h-1zM170 69h1v1h-1zM191 69h2v1h-2zM147 70h1v1h-1zM150 70h3v1h-3zM171 70h3v1h-3zM176 70h1v1h-1zM190 70h2v1h-2zM155 71h1v1h-1zM162 71h1v1h-1zM168 71h1v1h-1zM188 71h1v1h-1zM190 71h1v1h-1zM140 72h1v1h-1zM156 72h1v1h-1zM158 72h1v1h-1zM191 72h2v1h-2zM151 73h3v1h-3zM161 73h1v1h-1zM167 73h1v1h-1zM191 73h1v1h-1zM140 74h1v1h-1zM148 74h1v1h-1zM166 74h1v1h-1zM190 74h2v1h-2zM150 75h1v1h-1zM163 75h1v1h-1zM153 76h2v1h-2zM186 76h2v1h-2zM189 76h2v1h-2zM149 77h2v1h-2zM152 77h1v1h-1zM155 77h2v1h-2zM158 77h1v1h-1zM161 77h1v1h-1zM152 78h1v1h-1zM154 78h2v1h-2zM157 78h1v1h-1zM159 78h1v1h-1zM163 78h1v1h-1zM140 79h1v1h-1zM152 79h1v1h-1zM158 79h2v1h-2zM186 79h1v1h-1zM153 80h1v1h-1zM156 80h2v1h-2zM160 80h1v1h-1zM185 80h1v1h-1zM148 81h1v1h-1zM150 81h1v1h-1zM152 81h2v1h-2zM155 81h1v1h-1zM157 81h1v1h-1zM184 81h2v1h-2zM186 82h1v1h-1zM148 83h1v1h-1zM152 83h1v1h-1zM151 84h1v1h-1zM155 84h1v1h-1zM184 84h1v1h-1zM151 85h2v1h-2zM157 85h1v1h-1zM159 85h1v1h-1zM177 85h1v1h-1zM180 85h1v1h-1zM183 85h1v1h-1zM159 86h1v1h-1zM179 86h3v1h-3zM151 87h1v1h-1zM153 87h1v1h-1zM161 87h1v1h-1zM174 87h1v1h-1zM180 87h1v1h-1zM150 88h1v1h-1zM155 88h1v1h-1zM157 88h1v1h-1zM159 88h1v1h-1zM140 89h1v1h-1zM166 89h1v1h-1zM169 89h1v1h-1zM152 90h1v1h-1zM163 90h1v1h-1zM174 90h1v1h-1zM162 91h2v1h-2zM166 91h1v1h-1zM139 92h1v1h-1zM149 92h1v1h-1zM154 92h1v1h-1zM159 92h2v1h-2zM162 92h2v1h-2zM166 92h2v1h-2zM173 92h1v1h-1zM150 93h1v1h-1zM166 93h2v1h-2zM173 93h1v1h-1zM157 94h1v1h-1zM153 95h1v1h-1zM155 95h1v1h-1zM161 95h1v1h-1zM153 97h2v1h-2zM164 98h1v1h-1z" fill="#6a6a6a"/><path d="M202 24h1v1h-1zM207 26h1v1h-1zM207 29h1v1h-1zM204 30h1v1h-1zM208 30h1v1h-1zM204 31h4v1h-4zM206 32h2v1h-2zM209 32h1v1h-1zM141 33h1v1h-1zM145 33h1v1h-1zM204 33h4v1h-4zM202 34h1v1h-1zM204 34h2v1h-2zM208 34h1v1h-1zM201 35h1v1h-1zM205 35h1v1h-1zM207 35h2v1h-2zM210 35h1v1h-1zM201 36h4v1h-4zM206 36h1v1h-1zM141 37h1v1h-1zM144 37h1v1h-1zM201 37h3v1h-3zM206 37h1v1h-1zM208 37h1v1h-1zM211 37h1v1h-1zM142 38h1v1h-1zM198 38h1v1h-1zM200 38h3v1h-3zM204 38h1v1h-1zM206 38h1v1h-1zM208 38h1v1h-1zM199 39h1v1h-1zM206 39h3v1h-3zM210 39h1v1h-1zM141 40h4v1h-4zM198 40h2v1h-2zM207 40h2v1h-2zM142 41h2v1h-2zM204 41h1v1h-1zM207 41h2v1h-2zM141 42h3v1h-3zM145 42h1v1h-1zM150 42h1v1h-1zM198 42h1v1h-1zM201 42h1v1h-1zM205 42h2v1h-2zM144 43h1v1h-1zM147 43h1v1h-1zM198 43h1v1h-1zM200 43h1v1h-1zM208 43h2v1h-2zM142 44h1v1h-1zM147 44h1v1h-1zM197 44h3v1h-3zM205 44h2v1h-2zM208 44h1v1h-1zM142 45h1v1h-1zM145 45h1v1h-1zM197 45h1v1h-1zM199 45h2v1h-2zM203 45h1v1h-1zM205 45h1v1h-1zM207 45h1v1h-1zM142 46h1v1h-1zM144 46h1v1h-1zM198 46h1v1h-1zM201 46h1v1h-1zM206 46h1v1h-1zM145 47h1v1h-1zM196 47h1v1h-1zM198 47h2v1h-2zM202 47h1v1h-1zM207 47h2v1h-2zM141 48h1v1h-1zM143 48h1v1h-1zM145 48h1v1h-1zM196 48h5v1h-5zM206 48h1v1h-1zM208 48h1v1h-1zM141 49h3v1h-3zM148 49h1v1h-1zM196 49h1v1h-1zM198 49h1v1h-1zM200 49h1v1h-1zM202 49h5v1h-5zM142 50h2v1h-2zM145 50h1v1h-1zM147 50h1v1h-1zM196 50h1v1h-1zM198 50h1v1h-1zM200 50h5v1h-5zM206 50h1v1h-1zM141 51h3v1h-3zM147 51h1v1h-1zM197 51h2v1h-2zM200 51h2v1h-2zM204 51h1v1h-1zM141 52h1v1h-1zM143 52h2v1h-2zM146 52h1v1h-1zM149 52h1v1h-1zM186 52h1v1h-1zM195 52h2v1h-2zM198 52h3v1h-3zM202 52h1v1h-1zM204 52h2v1h-2zM143 53h4v1h-4zM196 53h2v1h-2zM199 53h3v1h-3zM203 53h1v1h-1zM205 53h1v1h-1zM141 54h4v1h-4zM147 54h1v1h-1zM194 54h1v1h-1zM197 54h4v1h-4zM202 54h1v1h-1zM142 55h2v1h-2zM145 55h2v1h-2zM148 55h1v1h-1zM196 55h4v1h-4zM201 55h1v1h-1zM203 55h1v1h-1zM141 56h1v1h-1zM143 56h2v1h-2zM192 56h1v1h-1zM194 56h1v1h-1zM196 56h2v1h-2zM200 56h1v1h-1zM141 57h4v1h-4zM146 57h1v1h-1zM149 57h1v1h-1zM193 57h2v1h-2zM197 57h1v1h-1zM199 57h2v1h-2zM140 58h5v1h-5zM146 58h1v1h-1zM187 58h1v1h-1zM192 58h1v1h-1zM196 58h1v1h-1zM199 58h1v1h-1zM141 59h1v1h-1zM144 59h1v1h-1zM146 59h1v1h-1zM185 59h1v1h-1zM187 59h2v1h-2zM199 59h1v1h-1zM141 60h2v1h-2zM146 60h2v1h-2zM141 61h1v1h-1zM143 61h2v1h-2zM147 61h1v1h-1zM183 61h1v1h-1zM189 61h1v1h-1zM192 61h1v1h-1zM194 61h1v1h-1zM142 62h2v1h-2zM146 62h1v1h-1zM150 62h1v1h-1zM184 62h1v1h-1zM187 62h1v1h-1zM143 63h1v1h-1zM145 63h3v1h-3zM180 63h2v1h-2zM183 63h2v1h-2zM186 63h3v1h-3zM190 63h1v1h-1zM194 63h1v1h-1zM197 63h1v1h-1zM144 64h3v1h-3zM148 64h1v1h-1zM181 64h1v1h-1zM183 64h1v1h-1zM185 64h2v1h-2zM188 64h1v1h-1zM191 64h1v1h-1zM142 65h2v1h-2zM146 65h3v1h-3zM178 65h1v1h-1zM182 65h1v1h-1zM184 65h1v1h-1zM186 65h1v1h-1zM143 66h3v1h-3zM148 66h2v1h-2zM175 66h3v1h-3zM182 66h3v1h-3zM186 66h1v1h-1zM143 67h1v1h-1zM145 67h1v1h-1zM148 67h1v1h-1zM153 67h1v1h-1zM172 67h1v1h-1zM174 67h4v1h-4zM179 67h1v1h-1zM181 67h2v1h-2zM185 67h1v1h-1zM140 68h2v1h-2zM143 68h3v1h-3zM147 68h1v1h-1zM152 68h1v1h-1zM167 68h2v1h-2zM172 68h1v1h-1zM178 68h1v1h-1zM180 68h1v1h-1zM183 68h1v1h-1zM187 68h2v1h-2zM148 69h1v1h-1zM168 69h2v1h-2zM172 69h1v1h-1zM174 69h1v1h-1zM182 69h1v1h-1zM185 69h1v1h-1zM187 69h1v1h-1zM141 70h1v1h-1zM149 70h1v1h-1zM164 70h3v1h-3zM175 70h1v1h-1zM184 70h1v1h-1zM186 70h2v1h-2zM189 70h1v1h-1zM145 71h1v1h-1zM147 71h3v1h-3zM153 71h1v1h-1zM165 71h2v1h-2zM169 71h1v1h-1zM171 71h4v1h-4zM184 71h2v1h-2zM187 71h1v1h-1zM191 71h1v1h-1zM147 72h2v1h-2zM166 72h5v1h-5zM185 72h6v1h-6zM144 73h1v1h-1zM148 73h1v1h-1zM150 73h1v1h-1zM165 73h2v1h-2zM168 73h2v1h-2zM185 73h1v1h-1zM187 73h2v1h-2zM144 74h2v1h-2zM147 74h1v1h-1zM149 74h4v1h-4zM155 74h1v1h-1zM158 74h1v1h-1zM164 74h2v1h-2zM188 74h1v1h-1zM193 74h1v1h-1zM146 75h1v1h-1zM148 75h2v1h-2zM158 75h1v1h-1zM160 75h2v1h-2zM164 75h1v1h-1zM166 75h1v1h-1zM168 75h1v1h-1zM185 75h3v1h-3zM146 76h2v1h-2zM149 76h2v1h-2zM152 76h1v1h-1zM159 76h1v1h-1zM162 76h3v1h-3zM166 76h2v1h-2zM188 76h1v1h-1zM147 77h2v1h-2zM151 77h1v1h-1zM154 77h1v1h-1zM162 77h4v1h-4zM185 77h2v1h-2zM188 77h1v1h-1zM149 78h3v1h-3zM160 78h3v1h-3zM164 78h1v1h-1zM185 78h2v1h-2zM148 79h1v1h-1zM154 79h1v1h-1zM160 79h1v1h-1zM163 79h1v1h-1zM185 79h1v1h-1zM187 79h2v1h-2zM140 80h1v1h-1zM145 80h1v1h-1zM148 80h1v1h-1zM150 80h1v1h-1zM152 80h1v1h-1zM154 80h1v1h-1zM161 80h3v1h-3zM140 81h1v1h-1zM149 81h1v1h-1zM151 81h1v1h-1zM159 81h6v1h-6zM166 81h1v1h-1zM181 81h3v1h-3zM147 82h2v1h-2zM151 82h1v1h-1zM153 82h3v1h-3zM157 82h2v1h-2zM162 82h1v1h-1zM180 82h1v1h-1zM182 82h1v1h-1zM184 82h2v1h-2zM140 83h1v1h-1zM147 83h1v1h-1zM150 83h2v1h-2zM157 83h5v1h-5zM163 83h1v1h-1zM181 83h3v1h-3zM185 83h1v1h-1zM140 84h1v1h-1zM150 84h1v1h-1zM152 84h1v1h-1zM156 84h3v1h-3zM160 84h1v1h-1zM163 84h1v1h-1zM179 84h1v1h-1zM181 84h2v1h-2zM148 85h3v1h-3zM158 85h1v1h-1zM160 85h3v1h-3zM178 85h2v1h-2zM140 86h1v1h-1zM149 86h3v1h-3zM154 86h3v1h-3zM158 86h1v1h-1zM162 86h1v1h-1zM166 86h1v1h-1zM171 86h1v1h-1zM173 86h1v1h-1zM176 86h1v1h-1zM178 86h1v1h-1zM148 87h3v1h-3zM152 87h1v1h-1zM155 87h5v1h-5zM162 87h1v1h-1zM164 87h3v1h-3zM170 87h1v1h-1zM172 87h2v1h-2zM175 87h2v1h-2zM140 88h1v1h-1zM151 88h1v1h-1zM153 88h1v1h-1zM158 88h1v1h-1zM160 88h1v1h-1zM162 88h2v1h-2zM166 88h2v1h-2zM169 88h3v1h-3zM174 88h1v1h-1zM176 88h2v1h-2zM150 89h4v1h-4zM160 89h1v1h-1zM162 89h2v1h-2zM167 89h2v1h-2zM171 89h3v1h-3zM176 89h1v1h-1zM140 90h1v1h-1zM148 90h4v1h-4zM153 90h2v1h-2zM156 90h1v1h-1zM161 90h1v1h-1zM164 90h8v1h-8zM173 90h1v1h-1zM140 91h1v1h-1zM149 91h3v1h-3zM164 91h1v1h-1zM169 91h3v1h-3zM140 92h1v1h-1zM150 92h1v1h-1zM152 92h1v1h-1zM168 92h1v1h-1zM140 93h1v1h-1zM149 93h1v1h-1zM152 93h1v1h-1zM162 93h2v1h-2zM172 93h1v1h-1zM148 94h1v1h-1zM164 94h1v1h-1zM168 94h1v1h-1zM170 94h1v1h-1zM140 95h1v1h-1zM148 95h4v1h-4zM166 95h1v1h-1zM140 96h1v1h-1zM148 96h1v1h-1zM150 96h1v1h-1zM149 97h2v1h-2zM140 98h1v1h-1zM148 98h1v1h-1zM150 98h2v1h-2zM157 98h1v1h-1z" fill="#3a3a3a"/><path d="M208 32h1v1h-1zM206 34h2v1h-2zM203 35h1v1h-1zM206 35h1v1h-1zM205 36h1v1h-1zM207 36h1v1h-1zM204 37h2v1h-2zM203 38h1v1h-1zM205 38h1v1h-1zM207 38h1v1h-1zM201 39h5v1h-5zM202 40h5v1h-5zM200 41h1v1h-1zM202 41h2v1h-2zM205 41h2v1h-2zM200 42h1v1h-1zM202 42h3v1h-3zM207 42h1v1h-1zM199 43h1v1h-1zM202 43h5v1h-5zM200 44h5v1h-5zM201 45h2v1h-2zM204 45h1v1h-1zM199 46h2v1h-2zM202 46h4v1h-4zM200 47h2v1h-2zM203 47h2v1h-2zM201 48h5v1h-5zM197 49h1v1h-1zM199 49h1v1h-1zM201 49h1v1h-1zM199 50h1v1h-1zM199 51h1v1h-1zM202 51h1v1h-1zM201 52h1v1h-1zM141 55h1v1h-1zM143 59h1v1h-1zM142 61h1v1h-1zM141 62h1v1h-1zM141 63h2v1h-2zM144 63h1v1h-1zM141 64h3v1h-3zM141 66h2v1h-2zM146 66h1v1h-1zM185 66h1v1h-1zM142 67h1v1h-1zM144 67h1v1h-1zM178 67h1v1h-1zM184 67h1v1h-1zM186 67h1v1h-1zM142 68h1v1h-1zM177 68h1v1h-1zM179 68h1v1h-1zM181 68h2v1h-2zM185 68h1v1h-1zM141 69h7v1h-7zM173 69h1v1h-1zM175 69h7v1h-7zM183 69h2v1h-2zM186 69h1v1h-1zM188 69h1v1h-1zM142 70h5v1h-5zM174 70h1v1h-1zM177 70h7v1h-7zM185 70h1v1h-1zM141 71h4v1h-4zM146 71h1v1h-1zM170 71h1v1h-1zM175 71h9v1h-9zM186 71h1v1h-1zM189 71h1v1h-1zM141 72h6v1h-6zM171 72h14v1h-14zM141 73h3v1h-3zM145 73h3v1h-3zM170 73h15v1h-15zM186 73h1v1h-1zM141 74h3v1h-3zM146 74h1v1h-1zM167 74h19v1h-19zM187 74h1v1h-1zM141 75h5v1h-5zM147 75h1v1h-1zM165 75h1v1h-1zM167 75h1v1h-1zM169 75h16v1h-16zM141 76h5v1h-5zM148 76h1v1h-1zM165 76h1v1h-1zM168 76h18v1h-18zM141 77h6v1h-6zM166 77h19v1h-19zM141 78h8v1h-8zM165 78h20v1h-20zM141 79h7v1h-7zM150 79h1v1h-1zM161 79h2v1h-2zM164 79h19v1h-19zM184 79h1v1h-1zM141 80h4v1h-4zM146 80h2v1h-2zM149 80h1v1h-1zM164 80h21v1h-21zM141 81h7v1h-7zM158 81h1v1h-1zM165 81h1v1h-1zM167 81h14v1h-14zM141 82h6v1h-6zM149 82h1v1h-1zM161 82h1v1h-1zM163 82h17v1h-17zM181 82h1v1h-1zM141 83h6v1h-6zM149 83h1v1h-1zM156 83h1v1h-1zM162 83h1v1h-1zM164 83h17v1h-17zM141 84h9v1h-9zM161 84h2v1h-2zM164 84h15v1h-15zM180 84h1v1h-1zM140 85h8v1h-8zM163 85h14v1h-14zM141 86h8v1h-8zM161 86h1v1h-1zM163 86h3v1h-3zM167 86h4v1h-4zM172 86h1v1h-1zM174 86h2v1h-2zM177 86h1v1h-1zM140 87h8v1h-8zM160 87h1v1h-1zM163 87h1v1h-1zM167 87h3v1h-3zM171 87h1v1h-1zM141 88h9v1h-9zM161 88h1v1h-1zM164 88h2v1h-2zM168 88h1v1h-1zM172 88h2v1h-2zM141 89h8v1h-8zM164 89h2v1h-2zM170 89h1v1h-1zM141 90h7v1h-7zM141 91h8v1h-8zM172 91h1v1h-1zM141 92h8v1h-8zM141 93h8v1h-8zM151 93h1v1h-1zM140 94h8v1h-8zM149 94h2v1h-2zM141 95h7v1h-7zM141 96h7v1h-7zM149 96h1v1h-1zM140 97h9v1h-9zM141 98h7v1h-7zM149 98h1v1h-1z" fill="#111"/></g>
<ellipse cx="203.6" cy="43.2" rx="8" ry="19.7" transform="rotate(17 203.6 43.2)" fill="none" stroke="#111" stroke-width="1.0"/>
<line x1="127" y1="11.5" x2="235.5" y2="11.5" stroke="#222" stroke-width="1.2"/>
<line x1="235.5" y1="11.5" x2="235.5" y2="99.5" stroke="#777" stroke-width="0.8"/>
<line x1="127.5" y1="11.5" x2="127.5" y2="99.5" stroke="#222" stroke-width="1"/>
<line x1="127" y1="99.5" x2="235.5" y2="99.5" stroke="#222" stroke-width="1"/>
<line x1="124.8" y1="99.5" x2="127" y2="99.5" stroke="#111" stroke-width="0.7"/>
<line x1="127.0" y1="99.5" x2="127.0" y2="101.7" stroke="#111" stroke-width="0.7"/>
<line x1="125.7" y1="96.1412213740458" x2="127" y2="96.1412213740458" stroke="#111" stroke-width="0.7"/>
<line x1="131.1412213740458" y1="99.5" x2="131.1412213740458" y2="100.8" stroke="#111" stroke-width="0.7"/>
<line x1="125.7" y1="92.7824427480916" x2="127" y2="92.7824427480916" stroke="#111" stroke-width="0.7"/>
<line x1="135.2824427480916" y1="99.5" x2="135.2824427480916" y2="100.8" stroke="#111" stroke-width="0.7"/>
<line x1="125.7" y1="89.42366412213741" x2="127" y2="89.42366412213741" stroke="#111" stroke-width="0.7"/>
<line x1="139.4236641221374" y1="99.5" x2="139.4236641221374" y2="100.8" stroke="#111" stroke-width="0.7"/>
<line x1="125.7" y1="86.06488549618321" x2="127" y2="86.06488549618321" stroke="#111" stroke-width="0.7"/>
<line x1="143.5648854961832" y1="99.5" x2="143.5648854961832" y2="100.8" stroke="#111" stroke-width="0.7"/>
<line x1="124.8" y1="82.70610687022901" x2="127" y2="82.70610687022901" stroke="#111" stroke-width="0.7"/>
<line x1="147.706106870229" y1="99.5" x2="147.706106870229" y2="101.7" stroke="#111" stroke-width="0.7"/>
<line x1="125.7" y1="79.3473282442748" x2="127" y2="79.3473282442748" stroke="#111" stroke-width="0.7"/>
<line x1="151.84732824427482" y1="99.5" x2="151.84732824427482" y2="100.8" stroke="#111" stroke-width="0.7"/>
<line x1="125.7" y1="75.9885496183206" x2="127" y2="75.9885496183206" stroke="#111" stroke-width="0.7"/>
<line x1="155.9885496183206" y1="99.5" x2="155.9885496183206" y2="100.8" stroke="#111" stroke-width="0.7"/>
<line x1="125.7" y1="72.62977099236642" x2="127" y2="72.62977099236642" stroke="#111" stroke-width="0.7"/>
<line x1="160.12977099236642" y1="99.5" x2="160.12977099236642" y2="100.8" stroke="#111" stroke-width="0.7"/>
<line x1="125.7" y1="69.27099236641222" x2="127" y2="69.27099236641222" stroke="#111" stroke-width="0.7"/>
<line x1="164.2709923664122" y1="99.5" x2="164.2709923664122" y2="100.8" stroke="#111" stroke-width="0.7"/>
<line x1="124.8" y1="65.91221374045801" x2="127" y2="65.91221374045801" stroke="#111" stroke-width="0.7"/>
<line x1="168.41221374045801" y1="99.5" x2="168.41221374045801" y2="101.7" stroke="#111" stroke-width="0.7"/>
<line x1="125.7" y1="62.55343511450382" x2="127" y2="62.55343511450382" stroke="#111" stroke-width="0.7"/>
<line x1="172.55343511450383" y1="99.5" x2="172.55343511450383" y2="100.8" stroke="#111" stroke-width="0.7"/>
<line x1="125.7" y1="59.19465648854962" x2="127" y2="59.19465648854962" stroke="#111" stroke-width="0.7"/>
<line x1="176.6946564885496" y1="99.5" x2="176.6946564885496" y2="100.8" stroke="#111" stroke-width="0.7"/>
<line x1="125.7" y1="55.83587786259542" x2="127" y2="55.83587786259542" stroke="#111" stroke-width="0.7"/>
<line x1="180.83587786259542" y1="99.5" x2="180.83587786259542" y2="100.8" stroke="#111" stroke-width="0.7"/>
<line x1="125.7" y1="52.47709923664122" x2="127" y2="52.47709923664122" stroke="#111" stroke-width="0.7"/>
<line x1="184.9770992366412" y1="99.5" x2="184.9770992366412" y2="100.8" stroke="#111" stroke-width="0.7"/>
<line x1="124.8" y1="49.11832061068702" x2="127" y2="49.11832061068702" stroke="#111" stroke-width="0.7"/>
<line x1="189.11832061068702" y1="99.5" x2="189.11832061068702" y2="101.7" stroke="#111" stroke-width="0.7"/>
<line x1="125.7" y1="45.75954198473283" x2="127" y2="45.75954198473283" stroke="#111" stroke-width="0.7"/>
<line x1="193.25954198473283" y1="99.5" x2="193.25954198473283" y2="100.8" stroke="#111" stroke-width="0.7"/>
<line x1="125.7" y1="42.400763358778626" x2="127" y2="42.400763358778626" stroke="#111" stroke-width="0.7"/>
<line x1="197.40076335877865" y1="99.5" x2="197.40076335877865" y2="100.8" stroke="#111" stroke-width="0.7"/>
<line x1="125.7" y1="39.041984732824424" x2="127" y2="39.041984732824424" stroke="#111" stroke-width="0.7"/>
<line x1="201.54198473282443" y1="99.5" x2="201.54198473282443" y2="100.8" stroke="#111" stroke-width="0.7"/>
<line x1="125.7" y1="35.68320610687023" x2="127" y2="35.68320610687023" stroke="#111" stroke-width="0.7"/>
<line x1="205.68320610687022" y1="99.5" x2="205.68320610687022" y2="100.8" stroke="#111" stroke-width="0.7"/>
<line x1="124.8" y1="32.32442748091603" x2="127" y2="32.32442748091603" stroke="#111" stroke-width="0.7"/>
<line x1="209.82442748091603" y1="99.5" x2="209.82442748091603" y2="101.7" stroke="#111" stroke-width="0.7"/>
<line x1="125.7" y1="28.965648854961827" x2="127" y2="28.965648854961827" stroke="#111" stroke-width="0.7"/>
<line x1="213.96564885496184" y1="99.5" x2="213.96564885496184" y2="100.8" stroke="#111" stroke-width="0.7"/>
<line x1="125.7" y1="25.60687022900764" x2="127" y2="25.60687022900764" stroke="#111" stroke-width="0.7"/>
<line x1="218.10687022900765" y1="99.5" x2="218.10687022900765" y2="100.8" stroke="#111" stroke-width="0.7"/>
<line x1="125.7" y1="22.24809160305344" x2="127" y2="22.24809160305344" stroke="#111" stroke-width="0.7"/>
<line x1="222.24809160305344" y1="99.5" x2="222.24809160305344" y2="100.8" stroke="#111" stroke-width="0.7"/>
<line x1="125.7" y1="18.889312977099237" x2="127" y2="18.889312977099237" stroke="#111" stroke-width="0.7"/>
<line x1="226.38931297709922" y1="99.5" x2="226.38931297709922" y2="100.8" stroke="#111" stroke-width="0.7"/>
<line x1="124.8" y1="15.530534351145036" x2="127" y2="15.530534351145036" stroke="#111" stroke-width="0.7"/>
<line x1="230.53053435114504" y1="99.5" x2="230.53053435114504" y2="101.7" stroke="#111" stroke-width="0.7"/>
<line x1="125.7" y1="12.171755725190835" x2="127" y2="12.171755725190835" stroke="#111" stroke-width="0.7"/>
<line x1="234.67175572519085" y1="99.5" x2="234.67175572519085" y2="100.8" stroke="#111" stroke-width="0.7"/>
<text x="147.706106870229" y="107.8" font-size="4.6" text-anchor="middle" font-weight="normal" fill="#222">50</text>
<text x="123.3" y="82.70610687022901" font-size="4.6" text-anchor="middle" transform="rotate(-90 123.3 82.70610687022901)" font-weight="normal" fill="#222">50</text>
<text x="168.41221374045801" y="107.8" font-size="4.6" text-anchor="middle" font-weight="normal" fill="#222">100</text>
<text x="123.3" y="65.91221374045801" font-size="4.6" text-anchor="middle" transform="rotate(-90 123.3 65.91221374045801)" font-weight="normal" fill="#222">100</text>
<text x="189.11832061068702" y="107.8" font-size="4.6" text-anchor="middle" font-weight="normal" fill="#222">150</text>
<text x="123.3" y="49.11832061068702" font-size="4.6" text-anchor="middle" transform="rotate(-90 123.3 49.11832061068702)" font-weight="normal" fill="#222">150</text>
<text x="209.82442748091603" y="107.8" font-size="4.6" text-anchor="middle" font-weight="normal" fill="#222">200</text>
<text x="123.3" y="32.32442748091603" font-size="4.6" text-anchor="middle" transform="rotate(-90 123.3 32.32442748091603)" font-weight="normal" fill="#222">200</text>
<text x="230.53053435114504" y="107.8" font-size="4.6" text-anchor="middle" font-weight="normal" fill="#222">250</text>
<text x="123.3" y="15.530534351145036" font-size="4.6" text-anchor="middle" transform="rotate(-90 123.3 15.530534351145036)" font-weight="normal" fill="#222">250</text>
<text x="178.5" y="115.3" font-size="5.0" text-anchor="middle" font-weight="normal" fill="#222">FSC-A</text>
<text x="227" y="115.3" font-size="4.4" text-anchor="middle" font-weight="normal" fill="#222">(x 1,000)</text>
<text x="117.3" y="55" font-size="5.0" text-anchor="middle" transform="rotate(-90 117.3 55)" font-weight="normal" fill="#222">SSC-A</text>
<text x="117.3" y="19" font-size="4.4" text-anchor="middle" transform="rotate(-90 117.3 19)" font-weight="normal" fill="#222">(x 1,000)</text>
<text x="150.7" y="21.2" font-size="9.6" textLength="49.6" lengthAdjust="spacingAndGlyphs" stroke="#000" stroke-width="0.12">Monocytes</text>
<text x="83.8" y="118" font-size="8.7" textLength="16.8" lengthAdjust="spacingAndGlyphs" stroke="#000" stroke-width="0.12">SSC</text>
<line x1="88.5" y1="121.6" x2="88.5" y2="138.2" stroke="#000" stroke-width="1.3"/>
<line x1="87.7" y1="137.5" x2="100.6" y2="137.5" stroke="#000" stroke-width="1.3"/>
<text x="103" y="144.8" font-size="8.5" textLength="16.3" lengthAdjust="spacingAndGlyphs" stroke="#000" stroke-width="0.12">FSC</text>
<text x="52.6" y="164.5" font-size="14.6" stroke="#000" stroke-width="0.12">C</text>
<rect x="56.5" y="167.5" width="107" height="104" stroke="#8a8a8a" stroke-width="1" fill="none"/>
<g shape-rendering="crispEdges"><path d="M102 196h1v1h-1zM92 197h1v1h-1zM94 197h1v1h-1zM97 197h1v1h-1zM101 197h1v1h-1zM83 198h2v1h-2zM91 198h1v1h-1zM94 198h1v1h-1zM96 198h1v1h-1zM101 198h1v1h-1zM104 198h2v1h-2zM110 198h1v1h-1zM78 199h1v1h-1zM81 199h2v1h-2zM85 199h1v1h-1zM88 199h7v1h-7zM96 199h1v1h-1zM99 199h2v1h-2zM103 199h1v1h-1zM105 199h3v1h-3zM110 199h1v1h-1zM81 200h1v1h-1zM88 200h1v1h-1zM93 200h2v1h-2zM97 200h3v1h-3zM101 200h1v1h-1zM104 200h1v1h-1zM106 200h1v1h-1zM109 200h1v1h-1zM112 200h1v1h-1zM127 200h1v1h-1zM79 201h1v1h-1zM82 201h1v1h-1zM84 201h3v1h-3zM89 201h2v1h-2zM94 201h1v1h-1zM102 201h1v1h-1zM105 201h1v1h-1zM111 201h2v1h-2zM117 201h1v1h-1zM119 201h1v1h-1zM83 202h3v1h-3zM87 202h1v1h-1zM99 202h1v1h-1zM103 202h1v1h-1zM105 202h1v1h-1zM107 202h1v1h-1zM110 202h1v1h-1zM116 202h2v1h-2zM125 202h1v1h-1zM76 203h1v1h-1zM81 203h1v1h-1zM83 203h1v1h-1zM96 203h1v1h-1zM107 203h1v1h-1zM110 203h1v1h-1zM113 203h1v1h-1zM117 203h1v1h-1zM119 203h3v1h-3zM78 204h1v1h-1zM83 204h2v1h-2zM98 204h1v1h-1zM104 204h1v1h-1zM113 204h3v1h-3zM117 204h1v1h-1zM77 205h1v1h-1zM79 205h1v1h-1zM85 205h1v1h-1zM106 205h1v1h-1zM108 205h1v1h-1zM113 205h2v1h-2zM122 205h1v1h-1zM87 206h1v1h-1zM92 206h1v1h-1zM105 206h1v1h-1zM107 206h1v1h-1zM119 206h1v1h-1zM128 206h1v1h-1zM79 207h4v1h-4zM84 207h2v1h-2zM90 207h1v1h-1zM92 207h4v1h-4zM105 207h1v1h-1zM110 207h1v1h-1zM121 207h1v1h-1zM124 207h1v1h-1zM80 208h1v1h-1zM89 208h2v1h-2zM95 208h1v1h-1zM97 208h1v1h-1zM100 208h1v1h-1zM102 208h1v1h-1zM104 208h1v1h-1zM106 208h1v1h-1zM108 208h1v1h-1zM110 208h1v1h-1zM120 208h1v1h-1zM122 208h1v1h-1zM79 209h2v1h-2zM84 209h2v1h-2zM88 209h1v1h-1zM93 209h2v1h-2zM96 209h1v1h-1zM100 209h1v1h-1zM104 209h1v1h-1zM112 209h1v1h-1zM121 209h1v1h-1zM78 210h1v1h-1zM81 210h1v1h-1zM100 210h1v1h-1zM102 210h1v1h-1zM109 210h2v1h-2zM120 210h1v1h-1zM124 210h1v1h-1zM78 211h1v1h-1zM83 211h1v1h-1zM87 211h1v1h-1zM113 211h1v1h-1zM121 211h2v1h-2zM125 211h1v1h-1zM127 211h1v1h-1zM88 212h1v1h-1zM96 212h1v1h-1zM98 212h2v1h-2zM106 212h2v1h-2zM112 212h1v1h-1zM115 212h1v1h-1zM118 212h1v1h-1zM124 212h1v1h-1zM128 212h1v1h-1zM86 213h1v1h-1zM102 213h1v1h-1zM115 213h1v1h-1zM117 213h1v1h-1zM122 213h1v1h-1zM124 213h1v1h-1zM126 213h1v1h-1zM128 213h1v1h-1zM107 214h1v1h-1zM116 214h1v1h-1zM123 214h1v1h-1zM128 214h1v1h-1zM85 215h1v1h-1zM92 215h1v1h-1zM110 215h1v1h-1zM117 215h1v1h-1zM119 215h1v1h-1zM124 215h1v1h-1zM126 215h1v1h-1zM129 215h1v1h-1zM84 216h1v1h-1zM99 216h1v1h-1zM104 216h1v1h-1zM114 216h1v1h-1zM117 216h1v1h-1zM119 216h2v1h-2zM122 216h1v1h-1zM125 216h2v1h-2zM111 217h2v1h-2zM117 217h1v1h-1zM119 217h1v1h-1zM124 217h1v1h-1zM92 218h1v1h-1zM96 218h2v1h-2zM101 218h1v1h-1zM106 218h1v1h-1zM110 218h2v1h-2zM113 218h1v1h-1zM119 218h1v1h-1zM122 218h1v1h-1zM125 218h1v1h-1zM82 219h2v1h-2zM86 219h1v1h-1zM96 219h1v1h-1zM102 219h2v1h-2zM118 219h1v1h-1zM123 219h1v1h-1zM126 219h2v1h-2zM82 220h2v1h-2zM87 220h1v1h-1zM102 220h2v1h-2zM106 220h1v1h-1zM108 220h1v1h-1zM112 220h1v1h-1zM114 220h1v1h-1zM118 220h1v1h-1zM124 220h2v1h-2zM127 220h1v1h-1zM76 221h2v1h-2zM79 221h1v1h-1zM81 221h1v1h-1zM93 221h1v1h-1zM100 221h1v1h-1zM118 221h1v1h-1zM124 221h1v1h-1zM83 222h1v1h-1zM100 222h1v1h-1zM114 222h1v1h-1zM118 222h2v1h-2zM128 222h2v1h-2zM82 223h1v1h-1zM95 223h1v1h-1zM117 223h1v1h-1zM128 223h2v1h-2zM82 224h1v1h-1zM86 224h2v1h-2zM90 224h1v1h-1zM94 224h2v1h-2zM98 224h1v1h-1zM109 224h1v1h-1zM114 224h3v1h-3zM119 224h1v1h-1zM125 224h1v1h-1zM82 225h1v1h-1zM84 225h1v1h-1zM87 225h1v1h-1zM95 225h1v1h-1zM111 225h1v1h-1zM113 225h2v1h-2zM118 225h1v1h-1zM125 225h2v1h-2zM128 225h3v1h-3zM106 226h1v1h-1zM113 226h1v1h-1zM118 226h1v1h-1zM128 226h3v1h-3zM73 227h1v1h-1zM79 227h1v1h-1zM114 227h1v1h-1zM117 227h3v1h-3zM128 227h1v1h-1zM75 228h3v1h-3zM88 228h1v1h-1zM109 228h1v1h-1zM120 228h1v1h-1zM132 228h1v1h-1zM141 228h1v1h-1zM114 229h1v1h-1zM117 229h1v1h-1zM129 229h1v1h-1zM131 229h1v1h-1zM77 230h1v1h-1zM81 230h1v1h-1zM85 230h1v1h-1zM99 230h1v1h-1zM101 230h1v1h-1zM113 230h2v1h-2zM128 230h1v1h-1zM132 230h3v1h-3zM81 231h1v1h-1zM84 231h1v1h-1zM89 231h1v1h-1zM93 231h1v1h-1zM95 231h1v1h-1zM114 231h1v1h-1zM129 231h1v1h-1zM132 231h1v1h-1zM75 232h2v1h-2zM78 232h1v1h-1zM80 232h4v1h-4zM86 232h1v1h-1zM90 232h1v1h-1zM101 232h2v1h-2zM107 232h1v1h-1zM110 232h1v1h-1zM127 232h1v1h-1zM130 232h1v1h-1zM132 232h1v1h-1zM134 232h1v1h-1zM143 232h1v1h-1zM74 233h1v1h-1zM76 233h2v1h-2zM80 233h1v1h-1zM83 233h1v1h-1zM85 233h1v1h-1zM88 233h1v1h-1zM90 233h2v1h-2zM101 233h1v1h-1zM103 233h1v1h-1zM105 233h2v1h-2zM108 233h2v1h-2zM112 233h1v1h-1zM116 233h1v1h-1zM76 234h1v1h-1zM78 234h3v1h-3zM82 234h1v1h-1zM85 234h1v1h-1zM88 234h3v1h-3zM101 234h1v1h-1zM106 234h1v1h-1zM109 234h1v1h-1zM113 234h2v1h-2zM133 234h1v1h-1zM76 235h1v1h-1zM78 235h1v1h-1zM85 235h1v1h-1zM87 235h1v1h-1zM91 235h3v1h-3zM99 235h1v1h-1zM101 235h1v1h-1zM106 235h1v1h-1zM112 235h3v1h-3zM130 235h2v1h-2zM133 235h2v1h-2zM136 235h1v1h-1zM73 236h3v1h-3zM77 236h1v1h-1zM81 236h2v1h-2zM86 236h1v1h-1zM88 236h2v1h-2zM93 236h1v1h-1zM95 236h2v1h-2zM105 236h1v1h-1zM110 236h1v1h-1zM132 236h1v1h-1zM134 236h1v1h-1zM72 237h1v1h-1zM80 237h1v1h-1zM85 237h1v1h-1zM87 237h1v1h-1zM92 237h1v1h-1zM94 237h3v1h-3zM98 237h1v1h-1zM102 237h1v1h-1zM109 237h1v1h-1zM134 237h1v1h-1zM136 237h1v1h-1zM75 238h2v1h-2zM79 238h1v1h-1zM81 238h1v1h-1zM88 238h4v1h-4zM93 238h3v1h-3zM97 238h1v1h-1zM102 238h1v1h-1zM104 238h2v1h-2zM107 238h1v1h-1zM110 238h1v1h-1zM147 238h1v1h-1zM73 239h1v1h-1zM80 239h1v1h-1zM83 239h1v1h-1zM85 239h1v1h-1zM87 239h1v1h-1zM91 239h3v1h-3zM100 239h1v1h-1zM102 239h2v1h-2zM105 239h1v1h-1zM107 239h1v1h-1zM110 239h2v1h-2zM131 239h1v1h-1zM143 239h1v1h-1zM158 239h1v1h-1zM72 240h3v1h-3zM80 240h1v1h-1zM82 240h1v1h-1zM87 240h1v1h-1zM89 240h1v1h-1zM101 240h1v1h-1zM105 240h1v1h-1zM108 240h1v1h-1zM114 240h1v1h-1zM133 240h1v1h-1zM74 241h3v1h-3zM78 241h1v1h-1zM82 241h1v1h-1zM94 241h1v1h-1zM97 241h1v1h-1zM100 241h1v1h-1zM102 241h1v1h-1zM104 241h1v1h-1zM109 241h1v1h-1zM132 241h1v1h-1zM73 242h1v1h-1zM78 242h1v1h-1zM87 242h1v1h-1zM90 242h1v1h-1zM95 242h1v1h-1zM97 242h2v1h-2zM112 242h2v1h-2zM132 242h1v1h-1zM134 242h1v1h-1zM141 242h1v1h-1zM72 243h1v1h-1zM75 243h1v1h-1zM77 243h1v1h-1zM92 243h1v1h-1zM94 243h1v1h-1zM97 243h3v1h-3zM150 243h1v1h-1zM152 243h1v1h-1zM74 244h3v1h-3zM81 244h1v1h-1zM90 244h1v1h-1zM96 244h1v1h-1zM98 244h1v1h-1zM100 244h1v1h-1zM102 244h1v1h-1zM134 244h1v1h-1zM72 245h3v1h-3zM77 245h1v1h-1zM80 245h1v1h-1zM84 245h1v1h-1zM90 245h3v1h-3zM94 245h1v1h-1zM96 245h1v1h-1zM98 245h1v1h-1zM100 245h2v1h-2zM107 245h1v1h-1zM112 245h1v1h-1zM133 245h1v1h-1zM74 246h1v1h-1zM76 246h1v1h-1zM81 246h1v1h-1zM84 246h2v1h-2zM87 246h1v1h-1zM91 246h1v1h-1zM94 246h1v1h-1zM99 246h6v1h-6zM108 246h1v1h-1zM110 246h3v1h-3zM131 246h2v1h-2zM76 247h1v1h-1zM87 247h1v1h-1zM89 247h1v1h-1zM92 247h1v1h-1zM95 247h1v1h-1zM100 247h2v1h-2zM105 247h1v1h-1zM112 247h1v1h-1zM134 247h1v1h-1zM74 248h1v1h-1zM76 248h2v1h-2zM79 248h1v1h-1zM82 248h2v1h-2zM89 248h1v1h-1zM91 248h1v1h-1zM94 248h1v1h-1zM96 248h1v1h-1zM102 248h1v1h-1zM113 248h2v1h-2zM134 248h2v1h-2zM76 249h1v1h-1zM80 249h1v1h-1zM82 249h3v1h-3zM89 249h1v1h-1zM99 249h1v1h-1zM112 249h1v1h-1zM72 250h1v1h-1zM78 250h2v1h-2zM82 250h2v1h-2zM85 250h2v1h-2zM95 250h1v1h-1zM98 250h1v1h-1zM101 250h1v1h-1zM103 250h2v1h-2zM111 250h3v1h-3zM131 250h1v1h-1zM134 250h1v1h-1zM72 251h1v1h-1zM75 251h9v1h-9zM85 251h1v1h-1zM87 251h1v1h-1zM95 251h2v1h-2zM99 251h1v1h-1zM104 251h1v1h-1zM107 251h1v1h-1zM112 251h3v1h-3zM146 251h1v1h-1zM155 251h1v1h-1zM77 252h1v1h-1zM84 252h1v1h-1zM91 252h1v1h-1zM93 252h1v1h-1zM95 252h1v1h-1zM99 252h1v1h-1zM103 252h1v1h-1zM111 252h1v1h-1zM134 252h1v1h-1zM158 252h1v1h-1zM77 253h1v1h-1zM81 253h2v1h-2zM84 253h3v1h-3zM89 253h2v1h-2zM94 253h1v1h-1zM99 253h1v1h-1zM112 253h2v1h-2zM133 253h1v1h-1zM135 253h2v1h-2zM73 254h1v1h-1zM76 254h1v1h-1zM79 254h1v1h-1zM86 254h1v1h-1zM88 254h1v1h-1zM91 254h1v1h-1zM95 254h3v1h-3zM100 254h2v1h-2zM109 254h2v1h-2zM113 254h1v1h-1zM115 254h1v1h-1zM131 254h2v1h-2zM136 254h1v1h-1zM156 254h1v1h-1zM73 255h1v1h-1zM80 255h1v1h-1zM82 255h1v1h-1zM85 255h1v1h-1zM89 255h1v1h-1zM91 255h2v1h-2zM95 255h1v1h-1zM98 255h1v1h-1zM103 255h1v1h-1zM131 255h1v1h-1zM149 255h1v1h-1zM75 256h2v1h-2zM81 256h3v1h-3zM86 256h1v1h-1zM90 256h1v1h-1zM94 256h1v1h-1zM99 256h1v1h-1zM104 256h1v1h-1zM114 256h2v1h-2z" fill="#c8c8c8"/><path d="M88 198h2v1h-2zM95 198h1v1h-1zM99 198h1v1h-1zM95 199h1v1h-1zM84 200h1v1h-1zM86 200h2v1h-2zM90 200h1v1h-1zM95 200h2v1h-2zM100 200h1v1h-1zM103 200h1v1h-1zM110 200h1v1h-1zM87 201h1v1h-1zM91 201h1v1h-1zM95 201h4v1h-4zM100 201h1v1h-1zM104 201h1v1h-1zM108 201h3v1h-3zM79 202h1v1h-1zM82 202h1v1h-1zM91 202h1v1h-1zM93 202h1v1h-1zM95 202h3v1h-3zM101 202h1v1h-1zM106 202h1v1h-1zM109 202h1v1h-1zM112 202h3v1h-3zM118 202h1v1h-1zM82 203h1v1h-1zM85 203h2v1h-2zM90 203h1v1h-1zM93 203h3v1h-3zM100 203h1v1h-1zM102 203h1v1h-1zM105 203h2v1h-2zM108 203h2v1h-2zM111 203h2v1h-2zM115 203h1v1h-1zM123 203h1v1h-1zM82 204h1v1h-1zM88 204h1v1h-1zM92 204h2v1h-2zM95 204h1v1h-1zM97 204h1v1h-1zM99 204h1v1h-1zM101 204h3v1h-3zM106 204h1v1h-1zM108 204h2v1h-2zM116 204h1v1h-1zM76 205h1v1h-1zM80 205h2v1h-2zM83 205h2v1h-2zM86 205h1v1h-1zM88 205h1v1h-1zM92 205h1v1h-1zM94 205h1v1h-1zM99 205h2v1h-2zM104 205h1v1h-1zM111 205h2v1h-2zM115 205h1v1h-1zM117 205h2v1h-2zM78 206h4v1h-4zM83 206h4v1h-4zM88 206h1v1h-1zM91 206h1v1h-1zM93 206h1v1h-1zM95 206h1v1h-1zM97 206h6v1h-6zM104 206h1v1h-1zM106 206h1v1h-1zM109 206h3v1h-3zM117 206h2v1h-2zM86 207h2v1h-2zM91 207h1v1h-1zM96 207h1v1h-1zM99 207h3v1h-3zM103 207h2v1h-2zM106 207h1v1h-1zM109 207h1v1h-1zM112 207h1v1h-1zM114 207h5v1h-5zM84 208h1v1h-1zM86 208h1v1h-1zM88 208h1v1h-1zM91 208h2v1h-2zM99 208h1v1h-1zM101 208h1v1h-1zM109 208h1v1h-1zM111 208h4v1h-4zM121 208h1v1h-1zM82 209h1v1h-1zM107 209h2v1h-2zM111 209h1v1h-1zM114 209h7v1h-7zM85 210h1v1h-1zM89 210h1v1h-1zM112 210h2v1h-2zM119 210h1v1h-1zM118 211h2v1h-2zM109 212h1v1h-1zM113 212h2v1h-2zM116 212h2v1h-2zM119 212h3v1h-3zM118 213h2v1h-2zM121 213h1v1h-1zM84 214h1v1h-1zM118 214h4v1h-4zM124 214h1v1h-1zM118 215h1v1h-1zM121 215h3v1h-3zM115 216h2v1h-2zM121 216h1v1h-1zM96 217h1v1h-1zM116 217h1v1h-1zM118 217h1v1h-1zM120 217h1v1h-1zM122 217h1v1h-1zM125 217h1v1h-1zM121 218h1v1h-1zM123 218h1v1h-1zM119 219h2v1h-2zM124 219h1v1h-1zM119 220h3v1h-3zM123 220h1v1h-1zM126 220h1v1h-1zM119 221h2v1h-2zM122 221h2v1h-2zM125 221h2v1h-2zM80 222h1v1h-1zM121 222h2v1h-2zM125 222h3v1h-3zM119 223h3v1h-3zM124 223h1v1h-1zM126 223h2v1h-2zM118 224h1v1h-1zM124 224h1v1h-1zM126 224h1v1h-1zM117 225h1v1h-1zM121 225h1v1h-1zM124 225h1v1h-1zM117 226h1v1h-1zM119 226h1v1h-1zM123 226h1v1h-1zM126 226h2v1h-2zM126 227h1v1h-1zM117 228h1v1h-1zM129 228h1v1h-1zM118 229h1v1h-1zM128 229h1v1h-1zM82 230h1v1h-1zM117 230h1v1h-1zM126 230h2v1h-2zM129 230h2v1h-2zM82 231h1v1h-1zM115 231h1v1h-1zM117 231h1v1h-1zM130 231h1v1h-1zM93 232h2v1h-2zM114 232h2v1h-2zM82 233h1v1h-1zM86 233h1v1h-1zM98 233h1v1h-1zM113 233h3v1h-3zM129 233h1v1h-1zM131 233h1v1h-1zM84 234h1v1h-1zM93 234h2v1h-2zM96 234h1v1h-1zM131 234h2v1h-2zM75 235h1v1h-1zM82 235h3v1h-3zM86 235h1v1h-1zM88 235h2v1h-2zM95 235h1v1h-1zM132 235h1v1h-1zM76 236h1v1h-1zM84 236h1v1h-1zM112 236h2v1h-2zM130 236h2v1h-2zM133 236h1v1h-1zM73 237h1v1h-1zM77 237h1v1h-1zM81 237h1v1h-1zM91 237h1v1h-1zM99 237h1v1h-1zM105 237h1v1h-1zM112 237h1v1h-1zM114 237h1v1h-1zM131 237h3v1h-3zM80 238h1v1h-1zM83 238h5v1h-5zM92 238h1v1h-1zM98 238h1v1h-1zM113 238h2v1h-2zM132 238h2v1h-2zM74 239h3v1h-3zM78 239h1v1h-1zM81 239h2v1h-2zM84 239h1v1h-1zM89 239h2v1h-2zM95 239h1v1h-1zM97 239h3v1h-3zM101 239h1v1h-1zM114 239h1v1h-1zM130 239h1v1h-1zM132 239h1v1h-1zM135 239h1v1h-1zM76 240h1v1h-1zM78 240h2v1h-2zM84 240h1v1h-1zM94 240h1v1h-1zM100 240h1v1h-1zM111 240h3v1h-3zM115 240h1v1h-1zM132 240h1v1h-1zM77 241h1v1h-1zM83 241h1v1h-1zM85 241h1v1h-1zM88 241h3v1h-3zM92 241h2v1h-2zM95 241h1v1h-1zM99 241h1v1h-1zM103 241h1v1h-1zM112 241h2v1h-2zM130 241h1v1h-1zM133 241h1v1h-1zM75 242h1v1h-1zM82 242h1v1h-1zM84 242h1v1h-1zM88 242h1v1h-1zM91 242h1v1h-1zM93 242h1v1h-1zM103 242h1v1h-1zM114 242h1v1h-1zM131 242h1v1h-1zM78 243h5v1h-5zM84 243h2v1h-2zM87 243h1v1h-1zM89 243h1v1h-1zM95 243h1v1h-1zM112 243h3v1h-3zM131 243h2v1h-2zM73 244h1v1h-1zM77 244h1v1h-1zM82 244h2v1h-2zM86 244h4v1h-4zM92 244h2v1h-2zM99 244h1v1h-1zM111 244h3v1h-3zM115 244h1v1h-1zM132 244h1v1h-1zM155 244h1v1h-1zM75 245h1v1h-1zM83 245h1v1h-1zM85 245h5v1h-5zM93 245h1v1h-1zM95 245h1v1h-1zM97 245h1v1h-1zM99 245h1v1h-1zM113 245h1v1h-1zM130 245h2v1h-2zM77 246h1v1h-1zM79 246h2v1h-2zM82 246h1v1h-1zM86 246h1v1h-1zM93 246h1v1h-1zM95 246h1v1h-1zM98 246h1v1h-1zM114 246h2v1h-2zM133 246h1v1h-1zM73 247h1v1h-1zM79 247h2v1h-2zM82 247h2v1h-2zM85 247h2v1h-2zM88 247h1v1h-1zM90 247h2v1h-2zM93 247h1v1h-1zM96 247h1v1h-1zM99 247h1v1h-1zM111 247h1v1h-1zM73 248h1v1h-1zM78 248h1v1h-1zM81 248h1v1h-1zM84 248h2v1h-2zM87 248h2v1h-2zM90 248h1v1h-1zM93 248h1v1h-1zM98 248h1v1h-1zM108 248h1v1h-1zM112 248h1v1h-1zM115 248h1v1h-1zM130 248h2v1h-2zM73 249h1v1h-1zM78 249h2v1h-2zM86 249h2v1h-2zM90 249h1v1h-1zM92 249h1v1h-1zM94 249h1v1h-1zM101 249h1v1h-1zM107 249h1v1h-1zM113 249h1v1h-1zM115 249h1v1h-1zM77 250h1v1h-1zM80 250h2v1h-2zM84 250h1v1h-1zM87 250h2v1h-2zM90 250h5v1h-5zM102 250h1v1h-1zM133 250h1v1h-1zM86 251h1v1h-1zM88 251h2v1h-2zM92 251h1v1h-1zM97 251h1v1h-1zM111 251h1v1h-1zM129 251h4v1h-4zM79 252h1v1h-1zM85 252h2v1h-2zM88 252h2v1h-2zM92 252h1v1h-1zM100 252h1v1h-1zM112 252h1v1h-1zM114 252h1v1h-1zM130 252h1v1h-1zM75 253h1v1h-1zM80 253h1v1h-1zM83 253h1v1h-1zM87 253h1v1h-1zM96 253h1v1h-1zM111 253h1v1h-1zM114 253h1v1h-1zM128 253h5v1h-5zM83 254h2v1h-2zM92 254h3v1h-3zM117 254h1v1h-1zM128 254h1v1h-1zM130 254h1v1h-1zM76 255h1v1h-1zM90 255h1v1h-1zM96 255h1v1h-1zM99 255h1v1h-1zM111 255h2v1h-2zM115 255h2v1h-2zM129 255h2v1h-2zM84 256h1v1h-1zM89 256h1v1h-1zM117 256h1v1h-1zM128 256h2v1h-2z" fill="#9a9a9a"/><path d="M89 200h1v1h-1zM92 200h1v1h-1zM105 200h1v1h-1zM88 201h1v1h-1zM107 201h1v1h-1zM86 202h1v1h-1zM88 202h2v1h-2zM92 202h1v1h-1zM98 202h1v1h-1zM100 202h1v1h-1zM102 202h1v1h-1zM111 202h1v1h-1zM84 203h1v1h-1zM87 203h3v1h-3zM91 203h1v1h-1zM97 203h3v1h-3zM104 203h1v1h-1zM114 203h1v1h-1zM81 204h1v1h-1zM85 204h3v1h-3zM89 204h1v1h-1zM91 204h1v1h-1zM94 204h1v1h-1zM96 204h1v1h-1zM100 204h1v1h-1zM105 204h1v1h-1zM107 204h1v1h-1zM110 204h3v1h-3zM82 205h1v1h-1zM89 205h2v1h-2zM93 205h1v1h-1zM96 205h3v1h-3zM101 205h3v1h-3zM105 205h1v1h-1zM109 205h1v1h-1zM82 206h1v1h-1zM89 206h1v1h-1zM96 206h1v1h-1zM103 206h1v1h-1zM112 206h1v1h-1zM114 206h3v1h-3zM83 207h1v1h-1zM88 207h1v1h-1zM102 207h1v1h-1zM111 207h1v1h-1zM113 207h1v1h-1zM98 208h1v1h-1zM107 208h1v1h-1zM115 208h3v1h-3zM115 210h4v1h-4zM115 211h2v1h-2zM120 213h1v1h-1zM117 214h1v1h-1zM122 214h1v1h-1zM125 214h1v1h-1zM120 215h1v1h-1zM123 217h1v1h-1zM120 218h1v1h-1zM121 219h2v1h-2zM121 221h1v1h-1zM123 222h1v1h-1zM125 223h1v1h-1zM121 224h1v1h-1zM119 225h2v1h-2zM120 226h1v1h-1zM124 226h2v1h-2zM120 227h6v1h-6zM127 227h1v1h-1zM126 228h2v1h-2zM127 229h1v1h-1zM118 230h1v1h-1zM121 230h1v1h-1zM127 231h2v1h-2zM116 232h2v1h-2zM129 232h1v1h-1zM128 234h1v1h-1zM130 234h1v1h-1zM115 235h1v1h-1zM128 235h1v1h-1zM115 236h1v1h-1zM90 237h1v1h-1zM115 237h1v1h-1zM128 237h1v1h-1zM130 238h1v1h-1zM113 239h1v1h-1zM115 239h1v1h-1zM83 240h1v1h-1zM130 240h1v1h-1zM114 241h1v1h-1zM131 241h1v1h-1zM86 242h1v1h-1zM89 242h1v1h-1zM83 243h1v1h-1zM86 243h1v1h-1zM88 243h1v1h-1zM90 243h1v1h-1zM78 244h1v1h-1zM114 244h1v1h-1zM131 244h1v1h-1zM81 245h1v1h-1zM114 245h2v1h-2zM83 246h1v1h-1zM89 246h2v1h-2zM81 247h1v1h-1zM115 247h1v1h-1zM116 248h1v1h-1zM129 248h1v1h-1zM91 249h1v1h-1zM130 249h2v1h-2zM76 250h1v1h-1zM114 250h2v1h-2zM130 250h1v1h-1zM84 251h1v1h-1zM115 251h3v1h-3zM113 252h1v1h-1zM115 252h2v1h-2zM128 252h2v1h-2zM117 253h1v1h-1zM90 254h1v1h-1zM114 254h1v1h-1zM118 254h1v1h-1zM129 254h1v1h-1zM118 255h1v1h-1zM122 255h1v1h-1z" fill="#6a6a6a"/><path d="M92 201h2v1h-2zM94 202h1v1h-1zM104 202h1v1h-1zM92 203h1v1h-1zM101 203h1v1h-1zM103 203h1v1h-1zM87 205h1v1h-1zM107 205h1v1h-1zM110 205h1v1h-1zM108 206h1v1h-1zM113 206h1v1h-1zM114 210h1v1h-1zM123 216h1v1h-1zM121 217h1v1h-1zM124 222h1v1h-1zM122 223h2v1h-2zM120 224h1v1h-1zM122 224h2v1h-2zM122 225h2v1h-2zM121 226h1v1h-1zM119 228h1v1h-1zM121 228h1v1h-1zM123 228h3v1h-3zM119 229h6v1h-6zM126 229h1v1h-1zM115 230h1v1h-1zM119 230h2v1h-2zM122 230h4v1h-4zM118 231h2v1h-2zM126 231h1v1h-1zM118 232h1v1h-1zM126 232h1v1h-1zM128 232h1v1h-1zM117 233h1v1h-1zM125 233h4v1h-4zM115 234h3v1h-3zM129 234h1v1h-1zM116 235h2v1h-2zM129 235h1v1h-1zM116 236h2v1h-2zM128 236h2v1h-2zM116 237h1v1h-1zM129 237h2v1h-2zM115 238h2v1h-2zM128 238h2v1h-2zM116 239h1v1h-1zM131 240h1v1h-1zM87 241h1v1h-1zM115 241h2v1h-2zM129 241h1v1h-1zM92 242h1v1h-1zM115 242h1v1h-1zM91 243h1v1h-1zM115 243h2v1h-2zM130 243h1v1h-1zM116 244h1v1h-1zM129 244h2v1h-2zM128 245h1v1h-1zM88 246h1v1h-1zM117 246h1v1h-1zM128 246h1v1h-1zM130 246h1v1h-1zM114 247h1v1h-1zM117 248h1v1h-1zM116 249h2v1h-2zM128 249h2v1h-2zM116 250h2v1h-2zM127 250h1v1h-1zM129 250h1v1h-1zM127 251h2v1h-2zM117 252h1v1h-1zM119 252h2v1h-2zM127 252h1v1h-1zM116 253h1v1h-1zM118 253h1v1h-1zM116 254h1v1h-1zM119 254h3v1h-3zM126 254h2v1h-2zM117 255h1v1h-1zM119 255h1v1h-1zM123 255h1v1h-1zM126 255h2v1h-2zM118 256h3v1h-3zM123 256h1v1h-1zM125 256h3v1h-3z" fill="#3a3a3a"/><path d="M122 228h1v1h-1zM125 229h1v1h-1zM120 231h6v1h-6zM119 232h7v1h-7zM118 233h7v1h-7zM118 234h10v1h-10zM118 235h10v1h-10zM118 236h10v1h-10zM117 237h11v1h-11zM117 238h11v1h-11zM117 239h13v1h-13zM116 240h14v1h-14zM117 241h12v1h-12zM116 242h15v1h-15zM117 243h13v1h-13zM117 244h12v1h-12zM116 245h12v1h-12zM129 245h1v1h-1zM116 246h1v1h-1zM118 246h10v1h-10zM129 246h1v1h-1zM116 247h15v1h-15zM118 248h11v1h-11zM118 249h10v1h-10zM118 250h9v1h-9zM128 250h1v1h-1zM118 251h9v1h-9zM118 252h1v1h-1zM121 252h6v1h-6zM119 253h9v1h-9zM122 254h4v1h-4zM120 255h2v1h-2zM124 255h2v1h-2zM121 256h2v1h-2zM124 256h1v1h-1z" fill="#111"/></g>
<line x1="71.5" y1="174.5" x2="161.3" y2="174.5" stroke="#666" stroke-width="0.8"/>
<line x1="161.5" y1="174.4" x2="161.5" y2="257.5" stroke="#888" stroke-width="0.8"/>
<line x1="71.5" y1="174.4" x2="71.5" y2="257.5" stroke="#222" stroke-width="1.1"/>
<line x1="71.5" y1="257.5" x2="161.3" y2="257.5" stroke="#222" stroke-width="1.1"/>
<rect x="77.8" y="198.2" width="52.2" height="29" stroke="#333" stroke-width="1.2" fill="none"/>
<rect x="112.5" y="231.5" width="18.9" height="22.6" stroke="#333" stroke-width="1.2" fill="none"/>
<line x1="69.5" y1="183.5" x2="71.5" y2="183.5" stroke="#333" stroke-width="0.6"/>
<line x1="69.5" y1="204.5" x2="71.5" y2="204.5" stroke="#333" stroke-width="0.6"/>
<line x1="69.5" y1="224.5" x2="71.5" y2="224.5" stroke="#333" stroke-width="0.6"/>
<line x1="69.5" y1="244.5" x2="71.5" y2="244.5" stroke="#333" stroke-width="0.6"/>
<line x1="85.5" y1="257.5" x2="85.5" y2="259.5" stroke="#333" stroke-width="0.6"/>
<line x1="107.5" y1="257.5" x2="107.5" y2="259.5" stroke="#333" stroke-width="0.6"/>
<line x1="130.5" y1="257.5" x2="130.5" y2="259.5" stroke="#333" stroke-width="0.6"/>
<line x1="151.5" y1="257.5" x2="151.5" y2="259.5" stroke="#333" stroke-width="0.6"/>
<line x1="70.5" y1="257.5" x2="71.5" y2="257.5" stroke="#555" stroke-width="0.4"/>
<line x1="71.5" y1="257.5" x2="71.5" y2="258.5" stroke="#555" stroke-width="0.4"/>
<line x1="70.5" y1="255.5" x2="71.5" y2="255.5" stroke="#555" stroke-width="0.4"/>
<line x1="73.5" y1="257.5" x2="73.5" y2="258.5" stroke="#555" stroke-width="0.4"/>
<line x1="70.5" y1="253.5" x2="71.5" y2="253.5" stroke="#555" stroke-width="0.4"/>
<line x1="76.5" y1="257.5" x2="76.5" y2="258.5" stroke="#555" stroke-width="0.4"/>
<line x1="70.5" y1="251.5" x2="71.5" y2="251.5" stroke="#555" stroke-width="0.4"/>
<line x1="78.5" y1="257.5" x2="78.5" y2="258.5" stroke="#555" stroke-width="0.4"/>
<line x1="70.5" y1="249.5" x2="71.5" y2="249.5" stroke="#555" stroke-width="0.4"/>
<line x1="80.5" y1="257.5" x2="80.5" y2="258.5" stroke="#555" stroke-width="0.4"/>
<line x1="70.5" y1="247.5" x2="71.5" y2="247.5" stroke="#555" stroke-width="0.4"/>
<line x1="83.5" y1="257.5" x2="83.5" y2="258.5" stroke="#555" stroke-width="0.4"/>
<line x1="70.5" y1="244.5" x2="71.5" y2="244.5" stroke="#555" stroke-width="0.4"/>
<line x1="85.5" y1="257.5" x2="85.5" y2="258.5" stroke="#555" stroke-width="0.4"/>
<line x1="70.5" y1="242.5" x2="71.5" y2="242.5" stroke="#555" stroke-width="0.4"/>
<line x1="87.5" y1="257.5" x2="87.5" y2="258.5" stroke="#555" stroke-width="0.4"/>
<line x1="70.5" y1="240.5" x2="71.5" y2="240.5" stroke="#555" stroke-width="0.4"/>
<line x1="89.5" y1="257.5" x2="89.5" y2="258.5" stroke="#555" stroke-width="0.4"/>
<line x1="70.5" y1="238.5" x2="71.5" y2="238.5" stroke="#555" stroke-width="0.4"/>
<line x1="92.5" y1="257.5" x2="92.5" y2="258.5" stroke="#555" stroke-width="0.4"/>
<line x1="70.5" y1="236.5" x2="71.5" y2="236.5" stroke="#555" stroke-width="0.4"/>
<line x1="94.5" y1="257.5" x2="94.5" y2="258.5" stroke="#555" stroke-width="0.4"/>
<line x1="70.5" y1="234.5" x2="71.5" y2="234.5" stroke="#555" stroke-width="0.4"/>
<line x1="96.5" y1="257.5" x2="96.5" y2="258.5" stroke="#555" stroke-width="0.4"/>
<line x1="70.5" y1="232.5" x2="71.5" y2="232.5" stroke="#555" stroke-width="0.4"/>
<line x1="99.5" y1="257.5" x2="99.5" y2="258.5" stroke="#555" stroke-width="0.4"/>
<line x1="70.5" y1="230.5" x2="71.5" y2="230.5" stroke="#555" stroke-width="0.4"/>
<line x1="101.5" y1="257.5" x2="101.5" y2="258.5" stroke="#555" stroke-width="0.4"/>
<line x1="70.5" y1="228.5" x2="71.5" y2="228.5" stroke="#555" stroke-width="0.4"/>
<line x1="103.5" y1="257.5" x2="103.5" y2="258.5" stroke="#555" stroke-width="0.4"/>
<line x1="70.5" y1="226.5" x2="71.5" y2="226.5" stroke="#555" stroke-width="0.4"/>
<line x1="106.5" y1="257.5" x2="106.5" y2="258.5" stroke="#555" stroke-width="0.4"/>
<line x1="70.5" y1="223.5" x2="71.5" y2="223.5" stroke="#555" stroke-width="0.4"/>
<line x1="108.5" y1="257.5" x2="108.5" y2="258.5" stroke="#555" stroke-width="0.4"/>
<line x1="70.5" y1="221.5" x2="71.5" y2="221.5" stroke="#555" stroke-width="0.4"/>
<line x1="110.5" y1="257.5" x2="110.5" y2="258.5" stroke="#555" stroke-width="0.4"/>
<line x1="70.5" y1="219.5" x2="71.5" y2="219.5" stroke="#555" stroke-width="0.4"/>
<line x1="112.5" y1="257.5" x2="112.5" y2="258.5" stroke="#555" stroke-width="0.4"/>
<line x1="70.5" y1="217.5" x2="71.5" y2="217.5" stroke="#555" stroke-width="0.4"/>
<line x1="115.5" y1="257.5" x2="115.5" y2="258.5" stroke="#555" stroke-width="0.4"/>
<line x1="70.5" y1="215.5" x2="71.5" y2="215.5" stroke="#555" stroke-width="0.4"/>
<line x1="117.5" y1="257.5" x2="117.5" y2="258.5" stroke="#555" stroke-width="0.4"/>
<line x1="70.5" y1="213.5" x2="71.5" y2="213.5" stroke="#555" stroke-width="0.4"/>
<line x1="119.5" y1="257.5" x2="119.5" y2="258.5" stroke="#555" stroke-width="0.4"/>
<line x1="70.5" y1="211.5" x2="71.5" y2="211.5" stroke="#555" stroke-width="0.4"/>
<line x1="122.5" y1="257.5" x2="122.5" y2="258.5" stroke="#555" stroke-width="0.4"/>
<line x1="70.5" y1="209.5" x2="71.5" y2="209.5" stroke="#555" stroke-width="0.4"/>
<line x1="124.5" y1="257.5" x2="124.5" y2="258.5" stroke="#555" stroke-width="0.4"/>
<line x1="70.5" y1="207.5" x2="71.5" y2="207.5" stroke="#555" stroke-width="0.4"/>
<line x1="126.5" y1="257.5" x2="126.5" y2="258.5" stroke="#555" stroke-width="0.4"/>
<line x1="70.5" y1="205.5" x2="71.5" y2="205.5" stroke="#555" stroke-width="0.4"/>
<line x1="129.5" y1="257.5" x2="129.5" y2="258.5" stroke="#555" stroke-width="0.4"/>
<line x1="70.5" y1="202.5" x2="71.5" y2="202.5" stroke="#555" stroke-width="0.4"/>
<line x1="131.5" y1="257.5" x2="131.5" y2="258.5" stroke="#555" stroke-width="0.4"/>
<line x1="70.5" y1="200.5" x2="71.5" y2="200.5" stroke="#555" stroke-width="0.4"/>
<line x1="133.5" y1="257.5" x2="133.5" y2="258.5" stroke="#555" stroke-width="0.4"/>
<line x1="70.5" y1="198.5" x2="71.5" y2="198.5" stroke="#555" stroke-width="0.4"/>
<line x1="135.5" y1="257.5" x2="135.5" y2="258.5" stroke="#555" stroke-width="0.4"/>
<line x1="70.5" y1="196.5" x2="71.5" y2="196.5" stroke="#555" stroke-width="0.4"/>
<line x1="138.5" y1="257.5" x2="138.5" y2="258.5" stroke="#555" stroke-width="0.4"/>
<line x1="70.5" y1="194.5" x2="71.5" y2="194.5" stroke="#555" stroke-width="0.4"/>
<line x1="140.5" y1="257.5" x2="140.5" y2="258.5" stroke="#555" stroke-width="0.4"/>
<line x1="70.5" y1="192.5" x2="71.5" y2="192.5" stroke="#555" stroke-width="0.4"/>
<line x1="142.5" y1="257.5" x2="142.5" y2="258.5" stroke="#555" stroke-width="0.4"/>
<line x1="70.5" y1="190.5" x2="71.5" y2="190.5" stroke="#555" stroke-width="0.4"/>
<line x1="145.5" y1="257.5" x2="145.5" y2="258.5" stroke="#555" stroke-width="0.4"/>
<line x1="70.5" y1="188.5" x2="71.5" y2="188.5" stroke="#555" stroke-width="0.4"/>
<line x1="147.5" y1="257.5" x2="147.5" y2="258.5" stroke="#555" stroke-width="0.4"/>
<line x1="70.5" y1="186.5" x2="71.5" y2="186.5" stroke="#555" stroke-width="0.4"/>
<line x1="149.5" y1="257.5" x2="149.5" y2="258.5" stroke="#555" stroke-width="0.4"/>
<line x1="70.5" y1="184.5" x2="71.5" y2="184.5" stroke="#555" stroke-width="0.4"/>
<line x1="152.5" y1="257.5" x2="152.5" y2="258.5" stroke="#555" stroke-width="0.4"/>
<line x1="70.5" y1="181.5" x2="71.5" y2="181.5" stroke="#555" stroke-width="0.4"/>
<line x1="154.5" y1="257.5" x2="154.5" y2="258.5" stroke="#555" stroke-width="0.4"/>
<line x1="70.5" y1="179.5" x2="71.5" y2="179.5" stroke="#555" stroke-width="0.4"/>
<line x1="156.5" y1="257.5" x2="156.5" y2="258.5" stroke="#555" stroke-width="0.4"/>
<line x1="70.5" y1="177.5" x2="71.5" y2="177.5" stroke="#555" stroke-width="0.4"/>
<line x1="158.5" y1="257.5" x2="158.5" y2="258.5" stroke="#555" stroke-width="0.4"/>
<line x1="70.5" y1="175.5" x2="71.5" y2="175.5" stroke="#555" stroke-width="0.4"/>
<line x1="161.5" y1="257.5" x2="161.5" y2="258.5" stroke="#555" stroke-width="0.4"/>
<text x="67.3" y="183.1" font-size="4.0" text-anchor="middle" transform="rotate(-90 67.3 183.1)" font-weight="normal" fill="#222">10<tspan font-size="2.8" dy="-1.5">5</tspan></text>
<text x="67.3" y="204.2" font-size="4.0" text-anchor="middle" transform="rotate(-90 67.3 204.2)" font-weight="normal" fill="#222">10<tspan font-size="2.8" dy="-1.5">5</tspan></text>
<text x="67.3" y="224.3" font-size="4.0" text-anchor="middle" transform="rotate(-90 67.3 224.3)" font-weight="normal" fill="#222">10<tspan font-size="2.8" dy="-1.5">5</tspan></text>
<text x="67.3" y="244.6" font-size="4.0" text-anchor="middle" transform="rotate(-90 67.3 244.6)" font-weight="normal" fill="#222">10<tspan font-size="2.8" dy="-1.5">5</tspan></text>
<text x="85" y="262.5" font-size="4.0" text-anchor="middle" font-weight="normal" fill="#222">10<tspan font-size="2.8" dy="-1.5">3</tspan></text>
<text x="107.5" y="262.5" font-size="4.0" text-anchor="middle" font-weight="normal" fill="#222">10<tspan font-size="2.8" dy="-1.5">3</tspan></text>
<text x="130" y="262.5" font-size="4.0" text-anchor="middle" font-weight="normal" fill="#222">10<tspan font-size="2.8" dy="-1.5">3</tspan></text>
<text x="151.5" y="262.5" font-size="4.0" text-anchor="middle" font-weight="normal" fill="#222">10<tspan font-size="2.8" dy="-1.5">3</tspan></text>
<text x="61.0" y="214.2" font-size="4.4" text-anchor="middle" transform="rotate(-90 61.0 214.2)" font-weight="normal" fill="#333">CD16 FITC-A</text>
<text x="116" y="269.8" font-size="4.4" text-anchor="middle" font-weight="normal" fill="#333">CD14 PerCP-A</text>
<text x="77.4" y="192" font-size="8.2" textLength="72.5" lengthAdjust="spacingAndGlyphs" stroke="#000" stroke-width="0.12">CD16+ monocytes</text>
<text x="132" y="239.7" font-size="8.2" textLength="20.3" lengthAdjust="spacingAndGlyphs" stroke="#000" stroke-width="0.12">CD14</text>
<text x="153.2" y="235.6" font-size="3.8" textLength="3.7" lengthAdjust="spacingAndGlyphs" stroke="#000" stroke-width="0.12">hi</text>
<text x="132.6" y="249.5" font-size="8.2" textLength="21.2" lengthAdjust="spacingAndGlyphs" stroke="#000" stroke-width="0.12">CD16</text>
<line x1="154.2" y1="244.5" x2="156.2" y2="244.5" stroke="#000" stroke-width="0.6"/>
<text x="45" y="283.0" font-size="8.6" textLength="21.5" lengthAdjust="spacingAndGlyphs" stroke="#000" stroke-width="0.12">CD16</text>
<line x1="51.3" y1="287.3" x2="51.3" y2="304.1" stroke="#000" stroke-width="1.5"/>
<line x1="50.55" y1="303.4" x2="63.8" y2="303.4" stroke="#000" stroke-width="1.5"/>
<text x="70.5" y="302.3" font-size="8.3" textLength="20.75" lengthAdjust="spacingAndGlyphs" stroke="#000" stroke-width="0.12">CD14</text>
<text x="253.0" y="33.74" font-size="14.6" stroke="#000" stroke-width="0.12">B</text>
<line x1="304.5" y1="26.5" x2="304.5" y2="104.95" stroke="#000" stroke-width="0.9"/>
<line x1="304.05" y1="104.5" x2="421" y2="104.5" stroke="#000" stroke-width="0.9"/>
<line x1="302.5" y1="104.5" x2="304.5" y2="104.5" stroke="#000" stroke-width="0.8"/>
<text x="302.8" y="106.81" font-size="6.5" text-anchor="end" textLength="8.64" lengthAdjust="spacingAndGlyphs" stroke="#000" stroke-width="0.12">0%</text>
<line x1="302.5" y1="88.5" x2="304.5" y2="88.5" stroke="#000" stroke-width="0.8"/>
<text x="302.8" y="91.21" font-size="6.5" text-anchor="end" textLength="8.64" lengthAdjust="spacingAndGlyphs" stroke="#000" stroke-width="0.12">5%</text>
<line x1="302.5" y1="73.5" x2="304.5" y2="73.5" stroke="#000" stroke-width="0.8"/>
<text x="302.8" y="75.61" font-size="6.5" text-anchor="end" textLength="11.97" lengthAdjust="spacingAndGlyphs" stroke="#000" stroke-width="0.12">10%</text>
<line x1="302.5" y1="57.5" x2="304.5" y2="57.5" stroke="#000" stroke-width="0.8"/>
<text x="302.8" y="60.01" font-size="6.5" text-anchor="end" textLength="11.97" lengthAdjust="spacingAndGlyphs" stroke="#000" stroke-width="0.12">15%</text>
<line x1="302.5" y1="42.5" x2="304.5" y2="42.5" stroke="#000" stroke-width="0.8"/>
<text x="302.8" y="44.41" font-size="6.5" text-anchor="end" textLength="11.97" lengthAdjust="spacingAndGlyphs" stroke="#000" stroke-width="0.12">20%</text>
<line x1="302.5" y1="26.5" x2="304.5" y2="26.5" stroke="#000" stroke-width="0.8"/>
<text x="302.8" y="28.81" font-size="6.5" text-anchor="end" textLength="11.97" lengthAdjust="spacingAndGlyphs" stroke="#000" stroke-width="0.12">25%</text>
<line x1="324.5" y1="104.5" x2="324.5" y2="106.5" stroke="#000" stroke-width="0.8"/>
<line x1="363.5" y1="104.5" x2="363.5" y2="106.5" stroke="#000" stroke-width="0.8"/>
<line x1="401.5" y1="104.5" x2="401.5" y2="106.5" stroke="#000" stroke-width="0.8"/>
<text x="285.6" y="63.5" font-size="7.1" text-anchor="middle" textLength="73.7" lengthAdjust="spacingAndGlyphs" transform="rotate(-90 285.6 63.5)" stroke="#000" stroke-width="0.12">% Monocytes in WBCs</text>
<path d="M356.70 15.49L356.70 12.85M356.70 15.49L359.21 14.67M356.70 15.49L358.25 17.62M356.70 15.49L355.15 17.62M356.70 15.49L354.19 14.67" stroke="#000" stroke-width="1.1" stroke-linecap="round" fill="none"/><circle cx="356.70" cy="12.85" r="0.9"/><circle cx="359.21" cy="14.67" r="0.9"/><circle cx="358.25" cy="17.62" r="0.9"/><circle cx="355.15" cy="17.62" r="0.9"/><circle cx="354.19" cy="14.67" r="0.9"/>
<path d="M365.60 15.49L365.60 12.85M365.60 15.49L368.11 14.67M365.60 15.49L367.15 17.62M365.60 15.49L364.05 17.62M365.60 15.49L363.09 14.67" stroke="#000" stroke-width="1.1" stroke-linecap="round" fill="none"/><circle cx="365.60" cy="12.85" r="0.9"/><circle cx="368.11" cy="14.67" r="0.9"/><circle cx="367.15" cy="17.62" r="0.9"/><circle cx="364.05" cy="17.62" r="0.9"/><circle cx="363.09" cy="14.67" r="0.9"/>
<text x="347.8" y="26.9" font-size="6.48" textLength="26.8" lengthAdjust="spacingAndGlyphs" stroke="#000" stroke-width="0.12">p=0.005</text>
<line x1="324.6" y1="31.5" x2="401" y2="31.5" stroke="#000" stroke-width="0.9"/>
<path d="M386.20 46.74L386.20 44.05M386.20 46.74L388.76 45.91M386.20 46.74L387.78 48.92M386.20 46.74L384.62 48.92M386.20 46.74L383.64 45.91" stroke="#000" stroke-width="1.1" stroke-linecap="round" fill="none"/><circle cx="386.20" cy="44.05" r="0.9"/><circle cx="388.76" cy="45.91" r="0.9"/><circle cx="387.78" cy="48.92" r="0.9"/><circle cx="384.62" cy="48.92" r="0.9"/><circle cx="383.64" cy="45.91" r="0.9"/>
<text x="372.3" y="57.2" font-size="6.48" textLength="22.3" lengthAdjust="spacingAndGlyphs" stroke="#000" stroke-width="0.12">p=0.03</text>
<line x1="363.8" y1="61.5" x2="401" y2="61.5" stroke="#000" stroke-width="0.9"/>
<rect x="317.6" y="84.6" width="13.8" height="4.0" rx="1.5" fill="#666"/>
<circle cx="324.2" cy="70.9" r="1.3" fill="#000"/>
<circle cx="322.4" cy="74.9" r="1.3" fill="#000"/>
<circle cx="326" cy="77.6" r="1.3" fill="#000"/>
<circle cx="326" cy="79.8" r="1.3" fill="#000"/>
<circle cx="322.4" cy="81.9" r="1.3" fill="#000"/>
<circle cx="319" cy="83.9" r="1.3" fill="#000"/>
<circle cx="315.5" cy="88.6" r="1.3" fill="#000"/>
<circle cx="315.5" cy="91.8" r="1.3" fill="#000"/>
<circle cx="319" cy="89.8" r="1.3" fill="#000"/>
<circle cx="319" cy="92.7" r="1.3" fill="#000"/>
<circle cx="322.4" cy="90.4" r="1.3" fill="#000"/>
<circle cx="322.4" cy="93.8" r="1.3" fill="#000"/>
<circle cx="326" cy="90.2" r="1.3" fill="#000"/>
<circle cx="326" cy="94.8" r="1.3" fill="#000"/>
<circle cx="329.4" cy="89.4" r="1.3" fill="#000"/>
<circle cx="329.4" cy="93" r="1.3" fill="#000"/>
<circle cx="333" cy="88.6" r="1.3" fill="#000"/>
<circle cx="333" cy="91.6" r="1.3" fill="#000"/>
<circle cx="324.2" cy="98.9" r="1.3" fill="#000"/>
<circle cx="319" cy="85.8" r="1.3" fill="#000"/>
<circle cx="322.4" cy="85.2" r="1.3" fill="#000"/>
<circle cx="326" cy="85.8" r="1.3" fill="#000"/>
<circle cx="329.4" cy="85.2" r="1.3" fill="#000"/>
<circle cx="317.5" cy="87" r="1.3" fill="#000"/>
<circle cx="327.7" cy="87.2" r="1.3" fill="#000"/>
<circle cx="323.7" cy="86.8" r="1.3" fill="#000"/>
<circle cx="331" cy="86.5" r="1.3" fill="#000"/>
<circle cx="320.5" cy="87.8" r="1.3" fill="#000"/>
<line x1="311.3" y1="87.5" x2="337.3" y2="87.5" stroke="#000" stroke-width="1.1"/>
<circle cx="359.5" cy="76.7" r="1.3" fill="#000"/>
<circle cx="363.1" cy="76.7" r="1.3" fill="#000"/>
<circle cx="366.7" cy="76.7" r="1.3" fill="#000"/>
<circle cx="363.2" cy="38.5" r="1.3" fill="#000"/>
<circle cx="355.8" cy="88.4" r="1.3" fill="#000"/>
<circle cx="359.5" cy="88.6" r="1.3" fill="#000"/>
<circle cx="366.7" cy="88.6" r="1.3" fill="#000"/>
<circle cx="370.2" cy="87.9" r="1.3" fill="#000"/>
<circle cx="355.8" cy="91.6" r="1.3" fill="#000"/>
<circle cx="359.5" cy="92.0" r="1.3" fill="#000"/>
<circle cx="363.1" cy="91.4" r="1.3" fill="#000"/>
<circle cx="366.7" cy="92.0" r="1.3" fill="#000"/>
<circle cx="370.2" cy="91.6" r="1.3" fill="#000"/>
<circle cx="359.5" cy="93.6" r="1.3" fill="#000"/>
<circle cx="366.7" cy="93.6" r="1.3" fill="#000"/>
<circle cx="363.1" cy="95.1" r="1.3" fill="#000"/>
<line x1="349.90000000000003" y1="84.5" x2="376.3" y2="84.5" stroke="#000" stroke-width="1.1"/>
<line x1="356.20000000000005" y1="80.5" x2="370.0" y2="80.5" stroke="#000" stroke-width="1.1"/>
<line x1="356.20000000000005" y1="88.5" x2="370.0" y2="88.5" stroke="#000" stroke-width="1.1"/>
<line x1="363.5" y1="80.8" x2="363.5" y2="88.2" stroke="#000" stroke-width="1.1"/>
<circle cx="402" cy="69.3" r="0.9" fill="#000"/>
<circle cx="404.1" cy="75.8" r="0.9" fill="#000"/>
<circle cx="398" cy="79" r="0.9" fill="#000"/>
<circle cx="400" cy="80" r="0.9" fill="#000"/>
<circle cx="402" cy="79.5" r="0.9" fill="#000"/>
<circle cx="404" cy="80.5" r="0.9" fill="#000"/>
<circle cx="406" cy="79.5" r="0.9" fill="#000"/>
<circle cx="399" cy="82" r="0.9" fill="#000"/>
<circle cx="401" cy="82.5" r="0.9" fill="#000"/>
<circle cx="403" cy="82" r="0.9" fill="#000"/>
<circle cx="405" cy="82.5" r="0.9" fill="#000"/>
<circle cx="402" cy="87.8" r="0.9" fill="#000"/>
<line x1="388.9" y1="80.5" x2="415.5" y2="80.5" stroke="#000" stroke-width="1.1"/>
<line x1="397.7" y1="79.5" x2="406.7" y2="79.5" stroke="#000" stroke-width="1.1"/>
<line x1="397.7" y1="82.5" x2="406.7" y2="82.5" stroke="#000" stroke-width="1.1"/>
<line x1="402.5" y1="79.6" x2="402.5" y2="82.3" stroke="#000" stroke-width="1.1"/>
<text x="311.8" y="116.3" font-size="7.2" textLength="25.7" lengthAdjust="spacingAndGlyphs" stroke="#000" stroke-width="0.12">Healthy</text>
<text x="310.6" y="124.8" font-size="7.2" textLength="28" lengthAdjust="spacingAndGlyphs" stroke="#000" stroke-width="0.12">controls</text>
<text x="359.8" y="115.8" font-size="7.2" textLength="9.3" lengthAdjust="spacingAndGlyphs" stroke="#000" stroke-width="0.12">Plt</text>
<text x="403.2" y="115.8" font-size="7.2" textLength="9.3" lengthAdjust="spacingAndGlyphs" stroke="#000" stroke-width="0.12">Plt</text>
<text x="347.2" y="125.1" font-size="7.4" textLength="34.2" lengthAdjust="spacingAndGlyphs" stroke="#000" stroke-width="0.12">&gt;50x10<tspan font-size="5.0" dy="-3.1">9</tspan><tspan dy="3.1">/L</tspan></text>
<text x="390.9" y="125.1" font-size="7.4" textLength="32.8" lengthAdjust="spacingAndGlyphs" stroke="#000" stroke-width="0.12">&lt;50x10<tspan font-size="5.0" dy="-3.1">9</tspan><tspan dy="3.1">/L</tspan></text>
<line x1="349.5" y1="131.5" x2="417.5" y2="131.5" stroke="#000" stroke-width="0.9"/>
<text x="359.5" y="141.7" font-size="7.2" textLength="40.7" lengthAdjust="spacingAndGlyphs" stroke="#000" stroke-width="0.12">ITP patients</text>
<text x="179.4" y="164.64" font-size="14.6" stroke="#000" stroke-width="0.12">D</text>
<line x1="207.5" y1="179.5" x2="207.5" y2="258.95" stroke="#000" stroke-width="0.9"/>
<line x1="207.05" y1="258.5" x2="327" y2="258.5" stroke="#000" stroke-width="0.9"/>
<line x1="205.5" y1="258.5" x2="207.5" y2="258.5" stroke="#000" stroke-width="0.8"/>
<text x="205.9" y="260.81" font-size="6.5" text-anchor="end" textLength="8.64" lengthAdjust="spacingAndGlyphs" stroke="#000" stroke-width="0.12">0%</text>
<line x1="205.5" y1="238.5" x2="207.5" y2="238.5" stroke="#000" stroke-width="0.8"/>
<text x="205.9" y="241.06" font-size="6.5" text-anchor="end" textLength="8.64" lengthAdjust="spacingAndGlyphs" stroke="#000" stroke-width="0.12">5%</text>
<line x1="205.5" y1="219.5" x2="207.5" y2="219.5" stroke="#000" stroke-width="0.8"/>
<text x="205.9" y="221.31" font-size="6.5" text-anchor="end" textLength="11.97" lengthAdjust="spacingAndGlyphs" stroke="#000" stroke-width="0.12">10%</text>
<line x1="205.5" y1="199.5" x2="207.5" y2="199.5" stroke="#000" stroke-width="0.8"/>
<text x="205.9" y="201.56" font-size="6.5" text-anchor="end" textLength="11.97" lengthAdjust="spacingAndGlyphs" stroke="#000" stroke-width="0.12">15%</text>
<line x1="205.5" y1="179.5" x2="207.5" y2="179.5" stroke="#000" stroke-width="0.8"/>
<text x="205.9" y="181.81" font-size="6.5" text-anchor="end" textLength="11.97" lengthAdjust="spacingAndGlyphs" stroke="#000" stroke-width="0.12">20%</text>
<line x1="228.5" y1="258.5" x2="228.5" y2="260.5" stroke="#000" stroke-width="0.8"/>
<line x1="267.5" y1="258.5" x2="267.5" y2="260.5" stroke="#000" stroke-width="0.8"/>
<line x1="307.5" y1="258.5" x2="307.5" y2="260.5" stroke="#000" stroke-width="0.8"/>
<text x="184.3" y="217.7" font-size="7.1" text-anchor="middle" textLength="50.8" lengthAdjust="spacingAndGlyphs" transform="rotate(-90 184.3 217.7)" stroke="#000" stroke-width="0.12">%CD14<tspan font-size="4.2" dy="-2.6">hi</tspan><tspan dy="2.6">CD16</tspan><tspan font-size="4.2" dy="-2.6">-</tspan></text>
<text x="190.9" y="218.2" font-size="7.1" text-anchor="middle" textLength="70" lengthAdjust="spacingAndGlyphs" transform="rotate(-90 190.9 218.2)" stroke="#000" stroke-width="0.12">monocytes in WBCs</text>
<text x="255.8" y="176.7" font-size="6.76" textLength="23" lengthAdjust="spacingAndGlyphs" stroke="#000" stroke-width="0.12">p=0.09</text>
<line x1="227" y1="178.5" x2="304.8" y2="178.5" stroke="#000" stroke-width="0.9"/>
<text x="277.9" y="203.5" font-size="6.76" textLength="18.1" lengthAdjust="spacingAndGlyphs" stroke="#000" stroke-width="0.12">p=0.1</text>
<line x1="267.1" y1="206.5" x2="306.3" y2="206.5" stroke="#000" stroke-width="0.9"/>
<rect x="220.6" y="241.2" width="14.6" height="3.8" rx="1.5" fill="#666"/>
<circle cx="227.8" cy="229.5" r="1.3" fill="#000"/>
<circle cx="224.2" cy="233.3" r="1.3" fill="#000"/>
<circle cx="231.4" cy="232.7" r="1.3" fill="#000"/>
<circle cx="227.8" cy="234.4" r="1.3" fill="#000"/>
<circle cx="224.2" cy="237.2" r="1.3" fill="#000"/>
<circle cx="231.4" cy="237.5" r="1.3" fill="#000"/>
<circle cx="227.8" cy="239" r="1.3" fill="#000"/>
<circle cx="222.3" cy="240" r="1.3" fill="#000"/>
<circle cx="221.2" cy="243" r="1.3" fill="#000"/>
<circle cx="223.5" cy="242.5" r="1.3" fill="#000"/>
<circle cx="225.8" cy="243.5" r="1.3" fill="#000"/>
<circle cx="228" cy="243" r="1.3" fill="#000"/>
<circle cx="230" cy="243.5" r="1.3" fill="#000"/>
<circle cx="233" cy="242" r="1.3" fill="#000"/>
<circle cx="234.6" cy="244.6" r="1.3" fill="#000"/>
<circle cx="224.2" cy="245" r="1.3" fill="#000"/>
<circle cx="231.2" cy="245" r="1.3" fill="#000"/>
<circle cx="218.8" cy="247.3" r="1.3" fill="#000"/>
<circle cx="222.3" cy="248.5" r="1.3" fill="#000"/>
<circle cx="227.8" cy="247.2" r="1.3" fill="#000"/>
<circle cx="226" cy="250.2" r="1.3" fill="#000"/>
<circle cx="229.6" cy="250.4" r="1.3" fill="#000"/>
<circle cx="233.1" cy="250.2" r="1.3" fill="#000"/>
<circle cx="236.9" cy="248.5" r="1.3" fill="#000"/>
<circle cx="229.6" cy="252.7" r="1.3" fill="#000"/>
<circle cx="226" cy="254.4" r="1.3" fill="#000"/>
<line x1="214.6" y1="243.5" x2="241.20000000000002" y2="243.5" stroke="#000" stroke-width="1.1"/>
<circle cx="267.3" cy="183.5" r="1.3" fill="#000"/>
<circle cx="267.3" cy="226.8" r="1.3" fill="#000"/>
<circle cx="269.5" cy="231.3" r="1.3" fill="#000"/>
<circle cx="265.6" cy="232.5" r="1.3" fill="#000"/>
<circle cx="257.1" cy="245.5" r="1.3" fill="#000"/>
<circle cx="261" cy="246.2" r="1.3" fill="#000"/>
<circle cx="264.2" cy="245.5" r="1.3" fill="#000"/>
<circle cx="267.7" cy="246.2" r="1.3" fill="#000"/>
<circle cx="270.9" cy="245.5" r="1.3" fill="#000"/>
<circle cx="274.4" cy="246.2" r="1.3" fill="#000"/>
<circle cx="278" cy="245" r="1.3" fill="#000"/>
<circle cx="261" cy="248" r="1.3" fill="#000"/>
<circle cx="264.2" cy="248.5" r="1.3" fill="#000"/>
<circle cx="267.7" cy="248" r="1.3" fill="#000"/>
<circle cx="273" cy="248" r="1.3" fill="#000"/>
<circle cx="265.6" cy="251.4" r="1.3" fill="#000"/>
<circle cx="269.1" cy="251.4" r="1.3" fill="#000"/>
<line x1="253.89999999999998" y1="239.5" x2="281.5" y2="239.5" stroke="#000" stroke-width="1.1"/>
<line x1="261.0" y1="235.5" x2="274.4" y2="235.5" stroke="#000" stroke-width="1.1"/>
<line x1="261.0" y1="244.5" x2="274.4" y2="244.5" stroke="#000" stroke-width="1.1"/>
<line x1="267.5" y1="235.1" x2="267.5" y2="244" stroke="#000" stroke-width="1.1"/>
<rect x="300" y="236.6" width="14.5" height="4.2" rx="1.5" fill="#777" stroke="#222" stroke-width="0.8"/>
<circle cx="307.5" cy="226.7" r="0.85" fill="#000"/>
<circle cx="307.5" cy="233.7" r="0.85" fill="#000"/>
<circle cx="302" cy="238" r="0.85" fill="#000"/>
<circle cx="304.5" cy="239.5" r="0.85" fill="#000"/>
<circle cx="307" cy="238.5" r="0.85" fill="#000"/>
<circle cx="309.5" cy="239.5" r="0.85" fill="#000"/>
<circle cx="312" cy="238.5" r="0.85" fill="#000"/>
<circle cx="303.5" cy="240.5" r="0.85" fill="#000"/>
<circle cx="310.5" cy="240.5" r="0.85" fill="#000"/>
<circle cx="307.5" cy="242.6" r="0.85" fill="#000"/>
<circle cx="307.5" cy="251.4" r="0.85" fill="#000"/>
<line x1="294.2" y1="238.5" x2="320.8" y2="238.5" stroke="#000" stroke-width="1.1"/>
<line x1="302.0" y1="236.5" x2="313.0" y2="236.5" stroke="#000" stroke-width="1.1"/>
<line x1="302.0" y1="240.5" x2="313.0" y2="240.5" stroke="#000" stroke-width="1.1"/>
<line x1="307.5" y1="236.8" x2="307.5" y2="240.6" stroke="#000" stroke-width="1.1"/>
<text x="214.9" y="270.6" font-size="7.2" textLength="25.9" lengthAdjust="spacingAndGlyphs" stroke="#000" stroke-width="0.12">Healthy</text>
<text x="213.8" y="279.1" font-size="7.2" textLength="28.5" lengthAdjust="spacingAndGlyphs" stroke="#000" stroke-width="0.12">controls</text>
<text x="263.8" y="269.8" font-size="7.2" textLength="9.3" lengthAdjust="spacingAndGlyphs" stroke="#000" stroke-width="0.12">Plt</text>
<text x="308.5" y="269.8" font-size="7.2" textLength="9.3" lengthAdjust="spacingAndGlyphs" stroke="#000" stroke-width="0.12">Plt</text>
<text x="251.2" y="279.1" font-size="7.4" textLength="34.5" lengthAdjust="spacingAndGlyphs" stroke="#000" stroke-width="0.12">&gt;50x10<tspan font-size="5.0" dy="-3.1">9</tspan><tspan dy="3.1">/L</tspan></text>
<text x="295.8" y="279.1" font-size="7.4" textLength="33.4" lengthAdjust="spacingAndGlyphs" stroke="#000" stroke-width="0.12">&lt;50x10<tspan font-size="5.0" dy="-3.1">9</tspan><tspan dy="3.1">/L</tspan></text>
<line x1="253.4" y1="286.5" x2="322.3" y2="286.5" stroke="#000" stroke-width="0.9"/>
<text x="264.2" y="296" font-size="7.2" textLength="41.2" lengthAdjust="spacingAndGlyphs" stroke="#000" stroke-width="0.12">ITP patients</text>
<text x="353.6" y="165.44" font-size="14.6" stroke="#000" stroke-width="0.12">E</text>
<line x1="369.5" y1="178.75" x2="369.5" y2="257.95" stroke="#000" stroke-width="0.9"/>
<line x1="369.05" y1="257.5" x2="489.3" y2="257.5" stroke="#000" stroke-width="0.9"/>
<line x1="367.5" y1="257.5" x2="369.5" y2="257.5" stroke="#000" stroke-width="0.8"/>
<text x="367.3" y="259.81" font-size="6.5" text-anchor="end" textLength="8.64" lengthAdjust="spacingAndGlyphs" stroke="#000" stroke-width="0.12">0%</text>
<line x1="367.5" y1="231.5" x2="369.5" y2="231.5" stroke="#000" stroke-width="0.8"/>
<text x="367.3" y="233.56" font-size="6.5" text-anchor="end" textLength="8.64" lengthAdjust="spacingAndGlyphs" stroke="#000" stroke-width="0.12">2%</text>
<line x1="367.5" y1="205.5" x2="369.5" y2="205.5" stroke="#000" stroke-width="0.8"/>
<text x="367.3" y="207.31" font-size="6.5" text-anchor="end" textLength="8.64" lengthAdjust="spacingAndGlyphs" stroke="#000" stroke-width="0.12">4%</text>
<line x1="367.5" y1="178.5" x2="369.5" y2="178.5" stroke="#000" stroke-width="0.8"/>
<text x="367.3" y="181.06" font-size="6.5" text-anchor="end" textLength="8.64" lengthAdjust="spacingAndGlyphs" stroke="#000" stroke-width="0.12">6%</text>
<line x1="389.5" y1="257.5" x2="389.5" y2="259.5" stroke="#000" stroke-width="0.8"/>
<line x1="429.5" y1="257.5" x2="429.5" y2="259.5" stroke="#000" stroke-width="0.8"/>
<line x1="469.5" y1="257.5" x2="469.5" y2="259.5" stroke="#000" stroke-width="0.8"/>
<text x="346.3" y="215.6" font-size="7.1" text-anchor="middle" textLength="69.6" lengthAdjust="spacingAndGlyphs" transform="rotate(-90 346.3 215.6)" stroke="#000" stroke-width="0.12">%CD16+ monocytes</text>
<text x="355.3" y="216.6" font-size="7.1" text-anchor="middle" textLength="30.4" lengthAdjust="spacingAndGlyphs" transform="rotate(-90 355.3 216.6)" stroke="#000" stroke-width="0.12">in WBCs</text>
<path d="M418.40 166.30L418.40 163.55M418.40 166.30L421.01 165.45M418.40 166.30L420.01 168.52M418.40 166.30L416.79 168.52M418.40 166.30L415.79 165.45" stroke="#000" stroke-width="1.1" stroke-linecap="round" fill="none"/><circle cx="418.40" cy="163.55" r="0.9"/><circle cx="421.01" cy="165.45" r="0.9"/><circle cx="420.01" cy="168.52" r="0.9"/><circle cx="416.79" cy="168.52" r="0.9"/><circle cx="415.79" cy="165.45" r="0.9"/>
<path d="M427.20 166.30L427.20 163.55M427.20 166.30L429.81 165.45M427.20 166.30L428.81 168.52M427.20 166.30L425.59 168.52M427.20 166.30L424.59 165.45" stroke="#000" stroke-width="1.1" stroke-linecap="round" fill="none"/><circle cx="427.20" cy="163.55" r="0.9"/><circle cx="429.81" cy="165.45" r="0.9"/><circle cx="428.81" cy="168.52" r="0.9"/><circle cx="425.59" cy="168.52" r="0.9"/><circle cx="424.59" cy="165.45" r="0.9"/>
<text x="409.6" y="179.7" font-size="6.48" textLength="27.1" lengthAdjust="spacingAndGlyphs" stroke="#000" stroke-width="0.12">p=0.003</text>
<line x1="390" y1="182.5" x2="468" y2="182.5" stroke="#000" stroke-width="0.9"/>
<path d="M446.95 188.93L446.95 186.35M446.95 188.93L449.40 188.13M446.95 188.93L448.47 191.02M446.95 188.93L445.43 191.02M446.95 188.93L444.50 188.13" stroke="#000" stroke-width="1.1" stroke-linecap="round" fill="none"/><circle cx="446.95" cy="186.35" r="0.9"/><circle cx="449.40" cy="188.13" r="0.9"/><circle cx="448.47" cy="191.02" r="0.9"/><circle cx="445.43" cy="191.02" r="0.9"/><circle cx="444.50" cy="188.13" r="0.9"/>
<path d="M455.55 188.93L455.55 186.35M455.55 188.93L458.00 188.13M455.55 188.93L457.07 191.02M455.55 188.93L454.03 191.02M455.55 188.93L453.10 188.13" stroke="#000" stroke-width="1.1" stroke-linecap="round" fill="none"/><circle cx="455.55" cy="186.35" r="0.9"/><circle cx="458.00" cy="188.13" r="0.9"/><circle cx="457.07" cy="191.02" r="0.9"/><circle cx="454.03" cy="191.02" r="0.9"/><circle cx="453.10" cy="188.13" r="0.9"/>
<text x="434.8" y="199.3" font-size="6.48" textLength="26.7" lengthAdjust="spacingAndGlyphs" stroke="#000" stroke-width="0.12">p=0.001</text>
<line x1="429.3" y1="201.5" x2="468" y2="201.5" stroke="#000" stroke-width="0.9"/>
<rect x="381" y="244.5" width="19" height="3.6" rx="1.5" fill="#666"/>
<circle cx="389.3" cy="211.5" r="1.3" fill="#000"/>
<circle cx="389.3" cy="233.8" r="1.3" fill="#000"/>
<circle cx="389.3" cy="240.8" r="1.3" fill="#000"/>
<circle cx="378.5" cy="243.9" r="1.3" fill="#000"/>
<circle cx="382" cy="245" r="1.3" fill="#000"/>
<circle cx="384.5" cy="244.5" r="1.3" fill="#000"/>
<circle cx="387" cy="245.5" r="1.3" fill="#000"/>
<circle cx="390" cy="244.7" r="1.3" fill="#000"/>
<circle cx="393" cy="245.5" r="1.3" fill="#000"/>
<circle cx="396" cy="244.5" r="1.3" fill="#000"/>
<circle cx="399.5" cy="245.5" r="1.3" fill="#000"/>
<circle cx="381" cy="247.5" r="1.3" fill="#000"/>
<circle cx="385" cy="247.5" r="1.3" fill="#000"/>
<circle cx="389" cy="247.8" r="1.3" fill="#000"/>
<circle cx="393" cy="247.5" r="1.3" fill="#000"/>
<circle cx="397" cy="247.8" r="1.3" fill="#000"/>
<circle cx="378.5" cy="249.5" r="1.3" fill="#000"/>
<circle cx="382" cy="250.5" r="1.3" fill="#000"/>
<circle cx="385.7" cy="251.6" r="1.3" fill="#000"/>
<circle cx="389.3" cy="251" r="1.3" fill="#000"/>
<circle cx="392.9" cy="250.6" r="1.3" fill="#000"/>
<circle cx="396.5" cy="250" r="1.3" fill="#000"/>
<circle cx="400.1" cy="249.5" r="1.3" fill="#000"/>
<circle cx="385.7" cy="253.5" r="1.3" fill="#000"/>
<circle cx="392.9" cy="253.7" r="1.3" fill="#000"/>
<circle cx="389.3" cy="255.5" r="1.3" fill="#000"/>
<line x1="376.3" y1="246.5" x2="402.3" y2="246.5" stroke="#000" stroke-width="1.1"/>
<circle cx="425.7" cy="239.6" r="1.3" fill="#000"/>
<circle cx="429.4" cy="242.5" r="1.3" fill="#000"/>
<circle cx="432.9" cy="241.3" r="1.3" fill="#000"/>
<circle cx="418.5" cy="248.5" r="1.3" fill="#000"/>
<circle cx="421.5" cy="247.5" r="1.3" fill="#000"/>
<circle cx="424.5" cy="248.8" r="1.3" fill="#000"/>
<circle cx="427.5" cy="247.3" r="1.3" fill="#000"/>
<circle cx="430.5" cy="248.8" r="1.3" fill="#000"/>
<circle cx="433.5" cy="247.3" r="1.3" fill="#000"/>
<circle cx="436.5" cy="248.8" r="1.3" fill="#000"/>
<circle cx="439.5" cy="248" r="1.3" fill="#000"/>
<circle cx="422" cy="250.5" r="1.3" fill="#000"/>
<circle cx="426" cy="250.8" r="1.3" fill="#000"/>
<circle cx="430" cy="250.5" r="1.3" fill="#000"/>
<circle cx="434" cy="250.8" r="1.3" fill="#000"/>
<circle cx="425.7" cy="253.5" r="1.3" fill="#000"/>
<circle cx="429.4" cy="255" r="1.3" fill="#000"/>
<circle cx="432.9" cy="254.7" r="1.3" fill="#000"/>
<line x1="416.0" y1="248.5" x2="442.6" y2="248.5" stroke="#000" stroke-width="1.1"/>
<circle cx="469.1" cy="212.5" r="0.85" fill="#000"/>
<circle cx="469.1" cy="226.5" r="0.85" fill="#000"/>
<circle cx="467.5" cy="234" r="0.85" fill="#000"/>
<circle cx="470.5" cy="236" r="0.85" fill="#000"/>
<circle cx="468.5" cy="239" r="0.85" fill="#000"/>
<circle cx="461.5" cy="246" r="0.85" fill="#000"/>
<circle cx="465" cy="247.5" r="0.85" fill="#000"/>
<circle cx="469.1" cy="247" r="0.85" fill="#000"/>
<circle cx="473" cy="247.5" r="0.85" fill="#000"/>
<circle cx="476.5" cy="246" r="0.85" fill="#000"/>
<line x1="456.0" y1="237.5" x2="482.4" y2="237.5" stroke="#000" stroke-width="1.1"/>
<line x1="463.2" y1="232.5" x2="475.2" y2="232.5" stroke="#000" stroke-width="1.1"/>
<line x1="463.2" y1="241.5" x2="475.2" y2="241.5" stroke="#000" stroke-width="1.1"/>
<line x1="469.5" y1="232.5" x2="469.5" y2="241" stroke="#000" stroke-width="1.1"/>
<text x="376.5" y="270.1" font-size="7.2" textLength="26.3" lengthAdjust="spacingAndGlyphs" stroke="#000" stroke-width="0.12">Healthy</text>
<text x="375.4" y="278.5" font-size="7.2" textLength="28.4" lengthAdjust="spacingAndGlyphs" stroke="#000" stroke-width="0.12">controls</text>
<text x="425.7" y="268.8" font-size="7.2" textLength="9.3" lengthAdjust="spacingAndGlyphs" stroke="#000" stroke-width="0.12">Plt</text>
<text x="470.6" y="268.8" font-size="7.2" textLength="9.3" lengthAdjust="spacingAndGlyphs" stroke="#000" stroke-width="0.12">Plt</text>
<text x="412.8" y="278.5" font-size="7.4" textLength="34.1" lengthAdjust="spacingAndGlyphs" stroke="#000" stroke-width="0.12">&gt;50x10<tspan font-size="5.0" dy="-3.1">9</tspan><tspan dy="3.1">/L</tspan></text>
<text x="456.7" y="278.5" font-size="7.4" textLength="35.5" lengthAdjust="spacingAndGlyphs" stroke="#000" stroke-width="0.12">&lt;50x10<tspan font-size="5.0" dy="-3.1">9</tspan><tspan dy="3.1">/L</tspan></text>
<line x1="414.5" y1="285.5" x2="485.3" y2="285.5" stroke="#000" stroke-width="0.9"/>
<text x="425.9" y="295.4" font-size="7.2" textLength="41.2" lengthAdjust="spacingAndGlyphs" stroke="#000" stroke-width="0.12">ITP patients</text>
<text x="11.6" y="317.34" font-size="14.6" stroke="#000" stroke-width="0.12">F</text>
<line x1="40.5" y1="335.5" x2="40.5" y2="414.95" stroke="#000" stroke-width="0.9"/>
<line x1="40.05" y1="414.5" x2="207.7" y2="414.5" stroke="#000" stroke-width="0.9"/>
<line x1="38.5" y1="414.5" x2="40.5" y2="414.5" stroke="#000" stroke-width="0.8"/>
<text x="38.0" y="417.09" font-size="7.3" text-anchor="end" textLength="3.98" lengthAdjust="spacingAndGlyphs" stroke="#000" stroke-width="0.12">0</text>
<line x1="38.5" y1="388.5" x2="40.5" y2="388.5" stroke="#000" stroke-width="0.8"/>
<text x="38.0" y="390.76" font-size="7.3" text-anchor="end" textLength="11.93" lengthAdjust="spacingAndGlyphs" stroke="#000" stroke-width="0.12">500</text>
<line x1="38.5" y1="361.5" x2="40.5" y2="361.5" stroke="#000" stroke-width="0.8"/>
<text x="38.0" y="364.43" font-size="7.3" text-anchor="end" textLength="15.91" lengthAdjust="spacingAndGlyphs" stroke="#000" stroke-width="0.12">1000</text>
<line x1="38.5" y1="335.5" x2="40.5" y2="335.5" stroke="#000" stroke-width="0.8"/>
<text x="38.0" y="338.1" font-size="7.3" text-anchor="end" textLength="15.91" lengthAdjust="spacingAndGlyphs" stroke="#000" stroke-width="0.12">1500</text>
<line x1="61.5" y1="414.5" x2="61.5" y2="416.5" stroke="#000" stroke-width="0.8"/>
<line x1="103.5" y1="414.5" x2="103.5" y2="416.5" stroke="#000" stroke-width="0.8"/>
<line x1="144.5" y1="414.5" x2="144.5" y2="416.5" stroke="#000" stroke-width="0.8"/>
<line x1="186.5" y1="414.5" x2="186.5" y2="416.5" stroke="#000" stroke-width="0.8"/>
<text x="8.2" y="372.8" font-size="7.4" text-anchor="middle" textLength="64.4" lengthAdjust="spacingAndGlyphs" transform="rotate(-90 8.2 372.8)" stroke="#000" stroke-width="0.12">Absolute numbers</text>
<text x="17.4" y="373.3" font-size="7.4" text-anchor="middle" textLength="32.7" lengthAdjust="spacingAndGlyphs" transform="rotate(-90 17.4 373.3)" stroke="#000" stroke-width="0.12">(cells/μL)</text>
<text x="70.8" y="337.3" font-size="6.76" textLength="19.2" lengthAdjust="spacingAndGlyphs" stroke="#000" stroke-width="0.12">p=0.2</text>
<line x1="61" y1="340.5" x2="106.2" y2="340.5" stroke="#000" stroke-width="0.9"/>
<text x="153.2" y="337.1" font-size="6.76" textLength="19.3" lengthAdjust="spacingAndGlyphs" stroke="#000" stroke-width="0.12">p=0.4</text>
<line x1="139" y1="341.5" x2="191.8" y2="341.5" stroke="#000" stroke-width="0.9"/>
<path d="M59.44 358.78L61.20 355.74L62.96 358.78ZM59.44 379.98L61.20 376.94L62.96 379.98ZM57.54 382.48L59.30 379.44L61.06 382.48ZM61.94 386.48L63.70 383.44L65.46 386.48ZM54.74 388.08L56.50 385.04L58.26 388.08ZM57.74 387.58L59.50 384.54L61.26 387.58ZM64.24 388.08L66.00 385.04L67.76 388.08ZM52.74 397.78L54.50 394.74L56.26 397.78ZM59.44 399.28L61.20 396.24L62.96 399.28ZM63.54 397.28L65.30 394.24L67.06 397.28ZM52.64 401.28L54.40 398.24L56.16 401.28ZM59.44 401.28L61.20 398.24L62.96 401.28ZM66.04 401.28L67.80 398.24L69.56 401.28ZM57.04 405.28L58.80 402.24L60.56 405.28ZM62.44 405.28L64.20 402.24L65.96 405.28Z" fill="#000"/>
<line x1="47.400000000000006" y1="390.5" x2="75.0" y2="390.5" stroke="#000" stroke-width="1.1"/>
<line x1="54.5" y1="387.5" x2="67.9" y2="387.5" stroke="#000" stroke-width="1.1"/>
<line x1="54.5" y1="392.5" x2="67.9" y2="392.5" stroke="#000" stroke-width="1.1"/>
<line x1="61.5" y1="387.7" x2="61.5" y2="392.9" stroke="#000" stroke-width="1.1"/>
<path d="M101.14 346.72L102.90 349.76L104.66 346.72ZM101.14 349.52L102.90 352.56L104.66 349.52ZM101.14 360.12L102.90 363.16L104.66 360.12ZM99.04 388.72L100.80 391.76L102.56 388.72ZM103.24 387.72L105.00 390.76L106.76 387.72ZM96.24 392.72L98.00 395.76L99.76 392.72ZM101.14 395.32L102.90 398.36L104.66 395.32ZM105.54 392.72L107.30 395.76L109.06 392.72ZM101.14 402.42L102.90 405.46L104.66 402.42ZM97.24 389.22L99.00 392.26L100.76 389.22Z" fill="#000"/>
<line x1="88.8" y1="381.5" x2="116.8" y2="381.5" stroke="#000" stroke-width="1.1"/>
<line x1="95.39999999999999" y1="375.5" x2="110.2" y2="375.5" stroke="#000" stroke-width="1.1"/>
<line x1="95.39999999999999" y1="387.5" x2="110.2" y2="387.5" stroke="#000" stroke-width="1.1"/>
<line x1="102.5" y1="375.9" x2="102.5" y2="387.4" stroke="#000" stroke-width="1.1"/>
<path d="M142.74 364.00L144.60 362.14L146.46 364.00L144.60 365.86ZM140.34 388.50L142.20 386.64L144.06 388.50L142.20 390.36ZM145.24 389.30L147.10 387.44L148.96 389.30L147.10 391.16ZM150.14 392.90L152.00 391.04L153.86 392.90L152.00 394.76ZM136.24 395.00L138.10 393.14L139.96 395.00L138.10 396.86ZM140.34 395.00L142.20 393.14L144.06 395.00L142.20 396.86ZM144.34 395.00L146.20 393.14L148.06 395.00L146.20 396.86ZM147.64 394.20L149.50 392.34L151.36 394.20L149.50 396.06ZM136.24 400.00L138.10 398.14L139.96 400.00L138.10 401.86ZM140.34 399.20L142.20 397.34L144.06 399.20L142.20 401.06ZM144.34 400.00L146.20 398.14L148.06 400.00L146.20 401.86ZM149.34 400.00L151.20 398.14L153.06 400.00L151.20 401.86ZM135.44 402.50L137.30 400.64L139.16 402.50L137.30 404.36ZM140.34 402.40L142.20 400.54L144.06 402.40L142.20 404.26ZM145.24 402.70L147.10 400.84L148.96 402.70L147.10 404.56ZM150.14 401.60L152.00 399.74L153.86 401.60L152.00 403.46ZM136.24 405.50L138.10 403.64L139.96 405.50L138.10 407.36ZM149.34 405.20L151.20 403.34L153.06 405.20L151.20 407.06ZM140.34 408.60L142.20 406.74L144.06 408.60L142.20 410.46ZM145.24 408.60L147.10 406.74L148.96 408.60L147.10 410.46Z" fill="#000"/>
<line x1="130.7" y1="397.5" x2="158.5" y2="397.5" stroke="#000" stroke-width="1.1"/>
<line x1="138.1" y1="394.5" x2="151.1" y2="394.5" stroke="#000" stroke-width="1.1"/>
<line x1="138.1" y1="400.5" x2="151.1" y2="400.5" stroke="#000" stroke-width="1.1"/>
<line x1="144.5" y1="394" x2="144.5" y2="400" stroke="#000" stroke-width="1.1"/>
<circle cx="183.8" cy="366.1" r="1.6" fill="none" stroke="#000" stroke-width="1.0"/>
<circle cx="188.7" cy="370.9" r="1.6" fill="none" stroke="#000" stroke-width="1.0"/>
<circle cx="186.3" cy="382" r="1.6" fill="none" stroke="#000" stroke-width="1.0"/>
<circle cx="179.4" cy="397.8" r="1.6" fill="none" stroke="#000" stroke-width="1.0"/>
<circle cx="183.8" cy="402.1" r="1.6" fill="none" stroke="#000" stroke-width="1.0"/>
<circle cx="188.4" cy="402.4" r="1.6" fill="none" stroke="#000" stroke-width="1.0"/>
<circle cx="192.8" cy="400.4" r="1.6" fill="none" stroke="#000" stroke-width="1.0"/>
<circle cx="186.3" cy="410.9" r="1.6" fill="none" stroke="#000" stroke-width="1.0"/>
<circle cx="186.3" cy="387.2" r="1.9" fill="#000"/>
<circle cx="186.3" cy="396.0" r="1.9" fill="#000"/>
<line x1="172.4" y1="391.5" x2="200.20000000000002" y2="391.5" stroke="#000" stroke-width="1.1"/>
<line x1="179.60000000000002" y1="386.5" x2="193.0" y2="386.5" stroke="#000" stroke-width="1.1"/>
<line x1="179.60000000000002" y1="396.5" x2="193.0" y2="396.5" stroke="#000" stroke-width="1.1"/>
<line x1="186.5" y1="386.9" x2="186.5" y2="396.2" stroke="#000" stroke-width="1.1"/>
<text x="10.4" y="427.5" font-size="7.2" textLength="11.2" lengthAdjust="spacingAndGlyphs" stroke="#000" stroke-width="0.12">ITP</text>
<text x="1.7" y="435.1" font-size="7.2" textLength="28.1" lengthAdjust="spacingAndGlyphs" stroke="#000" stroke-width="0.12">patients</text>
<text x="56.2" y="425.8" font-size="7.2" textLength="9.2" lengthAdjust="spacingAndGlyphs" stroke="#000" stroke-width="0.12">Plt</text>
<text x="101.6" y="425.8" font-size="7.2" textLength="9.2" lengthAdjust="spacingAndGlyphs" stroke="#000" stroke-width="0.12">Plt</text>
<text x="144.0" y="425.8" font-size="7.2" textLength="9.2" lengthAdjust="spacingAndGlyphs" stroke="#000" stroke-width="0.12">Plt</text>
<text x="189.4" y="425.8" font-size="7.2" textLength="9.2" lengthAdjust="spacingAndGlyphs" stroke="#000" stroke-width="0.12">Plt</text>
<text x="42.4" y="435.6" font-size="7.4" textLength="35.8" lengthAdjust="spacingAndGlyphs" stroke="#000" stroke-width="0.12">&gt;50x10<tspan font-size="5.0" dy="-3.1">9</tspan><tspan dy="3.1">/L</tspan></text>
<text x="88.7" y="435.6" font-size="7.4" textLength="35.4" lengthAdjust="spacingAndGlyphs" stroke="#000" stroke-width="0.12">&lt;50x10<tspan font-size="5.0" dy="-3.1">9</tspan><tspan dy="3.1">/L</tspan></text>
<text x="131.1" y="435.6" font-size="7.4" textLength="34.6" lengthAdjust="spacingAndGlyphs" stroke="#000" stroke-width="0.12">&gt;50x10<tspan font-size="5.0" dy="-3.1">9</tspan><tspan dy="3.1">/L</tspan></text>
<text x="176.0" y="435.6" font-size="7.4" textLength="35.2" lengthAdjust="spacingAndGlyphs" stroke="#000" stroke-width="0.12">&lt;50x10<tspan font-size="5.0" dy="-3.1">9</tspan><tspan dy="3.1">/L</tspan></text>
<line x1="42.9" y1="445.5" x2="121.5" y2="445.5" stroke="#000" stroke-width="0.9"/>
<line x1="132.8" y1="445.5" x2="208.7" y2="445.5" stroke="#000" stroke-width="0.9"/>
<text x="60.9" y="456.4" font-size="7.2" textLength="38.1" lengthAdjust="spacingAndGlyphs" stroke="#000" stroke-width="0.12">Monocytes</text>
<text x="152.9" y="454.8" font-size="7.7" textLength="43.3" lengthAdjust="spacingAndGlyphs" stroke="#000" stroke-width="0.12">CD14<tspan font-size="4.4" dy="-3">hi</tspan><tspan dy="3">CD16</tspan><tspan font-size="4.4" dy="-3">-</tspan></text>
<text x="155.8" y="462.1" font-size="7.2" textLength="38" lengthAdjust="spacingAndGlyphs" stroke="#000" stroke-width="0.12">monocytes</text>
<text x="232.3" y="317.34" font-size="14.6" stroke="#000" stroke-width="0.12">G</text>
<line x1="256.5" y1="335.5" x2="256.5" y2="420.95" stroke="#000" stroke-width="0.9"/>
<line x1="256.05" y1="420.5" x2="344.5" y2="420.5" stroke="#000" stroke-width="0.9"/>
<line x1="254.5" y1="420.5" x2="256.5" y2="420.5" stroke="#000" stroke-width="0.8"/>
<text x="254.3" y="423.2" font-size="7.6" text-anchor="end" textLength="4.14" lengthAdjust="spacingAndGlyphs" stroke="#000" stroke-width="0.12">0</text>
<line x1="254.5" y1="392.5" x2="256.5" y2="392.5" stroke="#000" stroke-width="0.8"/>
<text x="254.3" y="394.87" font-size="7.6" text-anchor="end" textLength="12.43" lengthAdjust="spacingAndGlyphs" stroke="#000" stroke-width="0.12">100</text>
<line x1="254.5" y1="363.5" x2="256.5" y2="363.5" stroke="#000" stroke-width="0.8"/>
<text x="254.3" y="366.54" font-size="7.6" text-anchor="end" textLength="12.43" lengthAdjust="spacingAndGlyphs" stroke="#000" stroke-width="0.12">200</text>
<line x1="254.5" y1="335.5" x2="256.5" y2="335.5" stroke="#000" stroke-width="0.8"/>
<text x="254.3" y="338.21" font-size="7.6" text-anchor="end" textLength="12.43" lengthAdjust="spacingAndGlyphs" stroke="#000" stroke-width="0.12">300</text>
<line x1="278.5" y1="420.5" x2="278.5" y2="422.5" stroke="#000" stroke-width="0.8"/>
<line x1="321.5" y1="420.5" x2="321.5" y2="422.5" stroke="#000" stroke-width="0.8"/>
<text x="227.4" y="376.7" font-size="7.4" text-anchor="middle" textLength="69" lengthAdjust="spacingAndGlyphs" transform="rotate(-90 227.4 376.7)" stroke="#000" stroke-width="0.12">Absolute numbers</text>
<text x="235.8" y="376.7" font-size="7.4" text-anchor="middle" textLength="32.5" lengthAdjust="spacingAndGlyphs" transform="rotate(-90 235.8 376.7)" stroke="#000" stroke-width="0.12">(Cells/μl)</text>
<path d="M298.85 324.84L298.85 322.15M298.85 324.84L301.41 324.01M298.85 324.84L300.43 327.02M298.85 324.84L297.27 327.02M298.85 324.84L296.29 324.01" stroke="#000" stroke-width="1.1" stroke-linecap="round" fill="none"/><circle cx="298.85" cy="322.15" r="0.9"/><circle cx="301.41" cy="324.01" r="0.9"/><circle cx="300.43" cy="327.02" r="0.9"/><circle cx="297.27" cy="327.02" r="0.9"/><circle cx="296.29" cy="324.01" r="0.9"/>
<path d="M307.75 324.84L307.75 322.15M307.75 324.84L310.31 324.01M307.75 324.84L309.33 327.02M307.75 324.84L306.17 327.02M307.75 324.84L305.19 324.01" stroke="#000" stroke-width="1.1" stroke-linecap="round" fill="none"/><circle cx="307.75" cy="322.15" r="0.9"/><circle cx="310.31" cy="324.01" r="0.9"/><circle cx="309.33" cy="327.02" r="0.9"/><circle cx="306.17" cy="327.02" r="0.9"/><circle cx="305.19" cy="324.01" r="0.9"/>
<text x="286.7" y="337.1" font-size="6.76" textLength="29.2" lengthAdjust="spacingAndGlyphs" stroke="#000" stroke-width="0.12">p=0.004</text>
<line x1="278.9" y1="340.5" x2="320.8" y2="340.5" stroke="#000" stroke-width="0.9"/>
<rect x="270.6" y="404.3" width="15" height="4.3" rx="2" fill="#8a8a8a" stroke="#111" stroke-width="1.1"/>
<path d="M276.34 389.38L278.10 386.34L279.86 389.38ZM276.34 400.58L278.10 397.54L279.86 400.58ZM271.74 404.48L273.50 401.44L275.26 404.48ZM276.54 404.68L278.30 401.64L280.06 404.68ZM281.24 404.48L283.00 401.44L284.76 404.48ZM266.74 412.08L268.50 409.04L270.26 412.08ZM271.54 412.58L273.30 409.54L275.06 412.58ZM276.34 412.58L278.10 409.54L279.86 412.58ZM281.24 412.58L283.00 409.54L284.76 412.58ZM286.24 411.58L288.00 408.54L289.76 411.58ZM276.34 418.68L278.10 415.64L279.86 418.68Z" fill="#000"/>
<line x1="264.09999999999997" y1="406.5" x2="292.7" y2="406.5" stroke="#000" stroke-width="1.1"/>
<path d="M319.04 345.92L320.80 348.96L322.56 345.92ZM319.04 365.72L320.80 368.76L322.56 365.72ZM316.84 373.72L318.60 376.76L320.36 373.72ZM321.44 375.42L323.20 378.46L324.96 375.42ZM321.44 389.02L323.20 392.06L324.96 389.02ZM316.54 389.72L318.30 392.76L320.06 389.72ZM314.24 401.92L316.00 404.96L317.76 401.92ZM319.04 401.92L320.80 404.96L322.56 401.92ZM324.14 404.92L325.90 407.96L327.66 404.92ZM319.04 407.02L320.80 410.06L322.56 407.02Z" fill="#000"/>
<line x1="306.6" y1="387.5" x2="335.6" y2="387.5" stroke="#000" stroke-width="1.1"/>
<line x1="313.70000000000005" y1="381.5" x2="328.5" y2="381.5" stroke="#000" stroke-width="1.1"/>
<line x1="313.70000000000005" y1="393.5" x2="328.5" y2="393.5" stroke="#000" stroke-width="1.1"/>
<line x1="321.5" y1="381" x2="321.5" y2="393.8" stroke="#000" stroke-width="1.1"/>
<text x="224.5" y="434.1" font-size="7.2" textLength="11.8" lengthAdjust="spacingAndGlyphs" stroke="#000" stroke-width="0.12">ITP</text>
<text x="215.9" y="443.1" font-size="7.2" textLength="29.3" lengthAdjust="spacingAndGlyphs" stroke="#000" stroke-width="0.12">patients</text>
<text x="273.6" y="432.8" font-size="7.2" textLength="10.3" lengthAdjust="spacingAndGlyphs" stroke="#000" stroke-width="0.12">Plt</text>
<text x="321.7" y="432.8" font-size="7.2" textLength="10.3" lengthAdjust="spacingAndGlyphs" stroke="#000" stroke-width="0.12">Plt</text>
<text x="259.6" y="443.4" font-size="7.8" textLength="37.4" lengthAdjust="spacingAndGlyphs" stroke="#000" stroke-width="0.12">&gt;50x10<tspan font-size="5.0" dy="-3.1">9</tspan><tspan dy="3.1">/L</tspan></text>
<text x="308.3" y="443.4" font-size="7.8" textLength="37.5" lengthAdjust="spacingAndGlyphs" stroke="#000" stroke-width="0.12">&lt;50x10<tspan font-size="5.0" dy="-3.1">9</tspan><tspan dy="3.1">/L</tspan></text>
<line x1="259.6" y1="453.5" x2="344" y2="453.5" stroke="#000" stroke-width="0.9"/>
<text x="264.5" y="465.7" font-size="7.2" textLength="69.4" lengthAdjust="spacingAndGlyphs" stroke="#000" stroke-width="0.12">CD16+ monocytes</text>
<text x="369.6" y="317.54" font-size="14.6" stroke="#000" stroke-width="0.12">H</text>
<line x1="397.5" y1="337.5" x2="397.5" y2="414.95" stroke="#000" stroke-width="0.9"/>
<line x1="397.05" y1="414.5" x2="513" y2="414.5" stroke="#000" stroke-width="0.9"/>
<line x1="395.5" y1="414.5" x2="397.5" y2="414.5" stroke="#000" stroke-width="0.8"/>
<text x="395.3" y="416.99" font-size="7.0" text-anchor="end" textLength="3.81" lengthAdjust="spacingAndGlyphs" stroke="#000" stroke-width="0.12">0</text>
<line x1="395.5" y1="388.5" x2="397.5" y2="388.5" stroke="#000" stroke-width="0.8"/>
<text x="395.3" y="391.31" font-size="7.0" text-anchor="end" textLength="11.44" lengthAdjust="spacingAndGlyphs" stroke="#000" stroke-width="0.12">100</text>
<line x1="395.5" y1="363.5" x2="397.5" y2="363.5" stroke="#000" stroke-width="0.8"/>
<text x="395.3" y="365.64" font-size="7.0" text-anchor="end" textLength="11.44" lengthAdjust="spacingAndGlyphs" stroke="#000" stroke-width="0.12">200</text>
<line x1="395.5" y1="337.5" x2="397.5" y2="337.5" stroke="#000" stroke-width="0.8"/>
<text x="395.3" y="339.98" font-size="7.0" text-anchor="end" textLength="11.44" lengthAdjust="spacingAndGlyphs" stroke="#000" stroke-width="0.12">300</text>
<line x1="397.5" y1="414.5" x2="397.5" y2="416.5" stroke="#000" stroke-width="0.8"/>
<text x="397.5" y="423.8" font-size="6.8" text-anchor="middle" textLength="3.67" lengthAdjust="spacingAndGlyphs" stroke="#000" stroke-width="0.12">0</text>
<line x1="426.5" y1="414.5" x2="426.5" y2="416.5" stroke="#000" stroke-width="0.8"/>
<text x="426.35" y="423.8" font-size="6.8" text-anchor="middle" textLength="11.0" lengthAdjust="spacingAndGlyphs" stroke="#000" stroke-width="0.12">100</text>
<line x1="455.5" y1="414.5" x2="455.5" y2="416.5" stroke="#000" stroke-width="0.8"/>
<text x="455.2" y="423.8" font-size="6.8" text-anchor="middle" textLength="11.0" lengthAdjust="spacingAndGlyphs" stroke="#000" stroke-width="0.12">200</text>
<line x1="484.5" y1="414.5" x2="484.5" y2="416.5" stroke="#000" stroke-width="0.8"/>
<text x="484.05" y="423.8" font-size="6.8" text-anchor="middle" textLength="11.0" lengthAdjust="spacingAndGlyphs" stroke="#000" stroke-width="0.12">300</text>
<line x1="512.5" y1="414.5" x2="512.5" y2="416.5" stroke="#000" stroke-width="0.8"/>
<text x="512.9" y="423.8" font-size="6.8" text-anchor="middle" textLength="11.0" lengthAdjust="spacingAndGlyphs" stroke="#000" stroke-width="0.12">400</text>
<text x="370.4" y="374.2" font-size="7.3" text-anchor="middle" textLength="50" lengthAdjust="spacingAndGlyphs" transform="rotate(-90 370.4 374.2)" stroke="#000" stroke-width="0.12">Platelet counts</text>
<text x="377.4" y="374.7" font-size="7.3" text-anchor="middle" textLength="22" lengthAdjust="spacingAndGlyphs" transform="rotate(-90 377.4 374.7)" stroke="#000" stroke-width="0.12">(10<tspan font-size="4.4" dy="-2.6">9</tspan><tspan dy="2.6">/L)</tspan></text>
<path d="M451.30 349.56L451.30 346.65M451.30 349.56L454.07 348.66M451.30 349.56L453.01 351.92M451.30 349.56L449.59 351.92M451.30 349.56L448.53 348.66" stroke="#000" stroke-width="1.1" stroke-linecap="round" fill="none"/><circle cx="451.30" cy="346.65" r="0.9"/><circle cx="454.07" cy="348.66" r="0.9"/><circle cx="453.01" cy="351.92" r="0.9"/><circle cx="449.59" cy="351.92" r="0.9"/><circle cx="448.53" cy="348.66" r="0.9"/>
<path d="M459.70 349.56L459.70 346.65M459.70 349.56L462.47 348.66M459.70 349.56L461.41 351.92M459.70 349.56L457.99 351.92M459.70 349.56L456.93 348.66" stroke="#000" stroke-width="1.1" stroke-linecap="round" fill="none"/><circle cx="459.70" cy="346.65" r="0.9"/><circle cx="462.47" cy="348.66" r="0.9"/><circle cx="461.41" cy="351.92" r="0.9"/><circle cx="457.99" cy="351.92" r="0.9"/><circle cx="456.93" cy="348.66" r="0.9"/>
<text x="464.8" y="346" font-size="7.32" textLength="26" lengthAdjust="spacingAndGlyphs" stroke="#000" stroke-width="0.12">r= -0.5</text>
<text x="464.8" y="356.3" font-size="8.03" textLength="32.3" lengthAdjust="spacingAndGlyphs" stroke="#000" stroke-width="0.12">p=0.003</text>
<text x="394.3" y="434.2" font-size="7.5" textLength="121.4" lengthAdjust="spacingAndGlyphs" stroke="#000" stroke-width="0.12">CD16+ monocyte absolute numbers</text>
<text x="440.1" y="442.5" font-size="7.5" textLength="30.1" lengthAdjust="spacingAndGlyphs" stroke="#000" stroke-width="0.12">(Cells/μl)</text>
<circle cx="409.5" cy="348" r="1.5" fill="#000"/>
<circle cx="403.5" cy="366" r="1.5" fill="#000"/>
<circle cx="411.2" cy="373.4" r="1.5" fill="#000"/>
<circle cx="411.2" cy="375.7" r="1.5" fill="#000"/>
<circle cx="402.4" cy="389" r="1.5" fill="#000"/>
<circle cx="410.2" cy="387" r="1.5" fill="#000"/>
<circle cx="425" cy="384.5" r="1.5" fill="#000"/>
<circle cx="400.8" cy="398.5" r="1.5" fill="#000"/>
<circle cx="410.7" cy="399.2" r="1.5" fill="#000"/>
<circle cx="411.2" cy="400.6" r="1.5" fill="#000"/>
<circle cx="407.7" cy="403.4" r="1.5" fill="#000"/>
<circle cx="412.3" cy="404.3" r="1.5" fill="#000"/>
<circle cx="416.9" cy="405" r="1.5" fill="#000"/>
<circle cx="415.8" cy="410.3" r="1.5" fill="#000"/>
<circle cx="422.2" cy="398.3" r="1.5" fill="#000"/>
<circle cx="423.8" cy="399.2" r="1.5" fill="#000"/>
<circle cx="431.5" cy="405.2" r="1.5" fill="#000"/>
<circle cx="435.4" cy="394.6" r="1.5" fill="#000"/>
<circle cx="440.2" cy="401" r="1.5" fill="#000"/>
<circle cx="441.8" cy="403.8" r="1.5" fill="#000"/>
<circle cx="452.2" cy="399.7" r="1.5" fill="#000"/>
<circle cx="464.2" cy="405.2" r="1.5" fill="#000"/>
<circle cx="467" cy="402.2" r="1.5" fill="#000"/>
<circle cx="507.2" cy="405.2" r="1.5" fill="#000"/>
</svg></body></html>
